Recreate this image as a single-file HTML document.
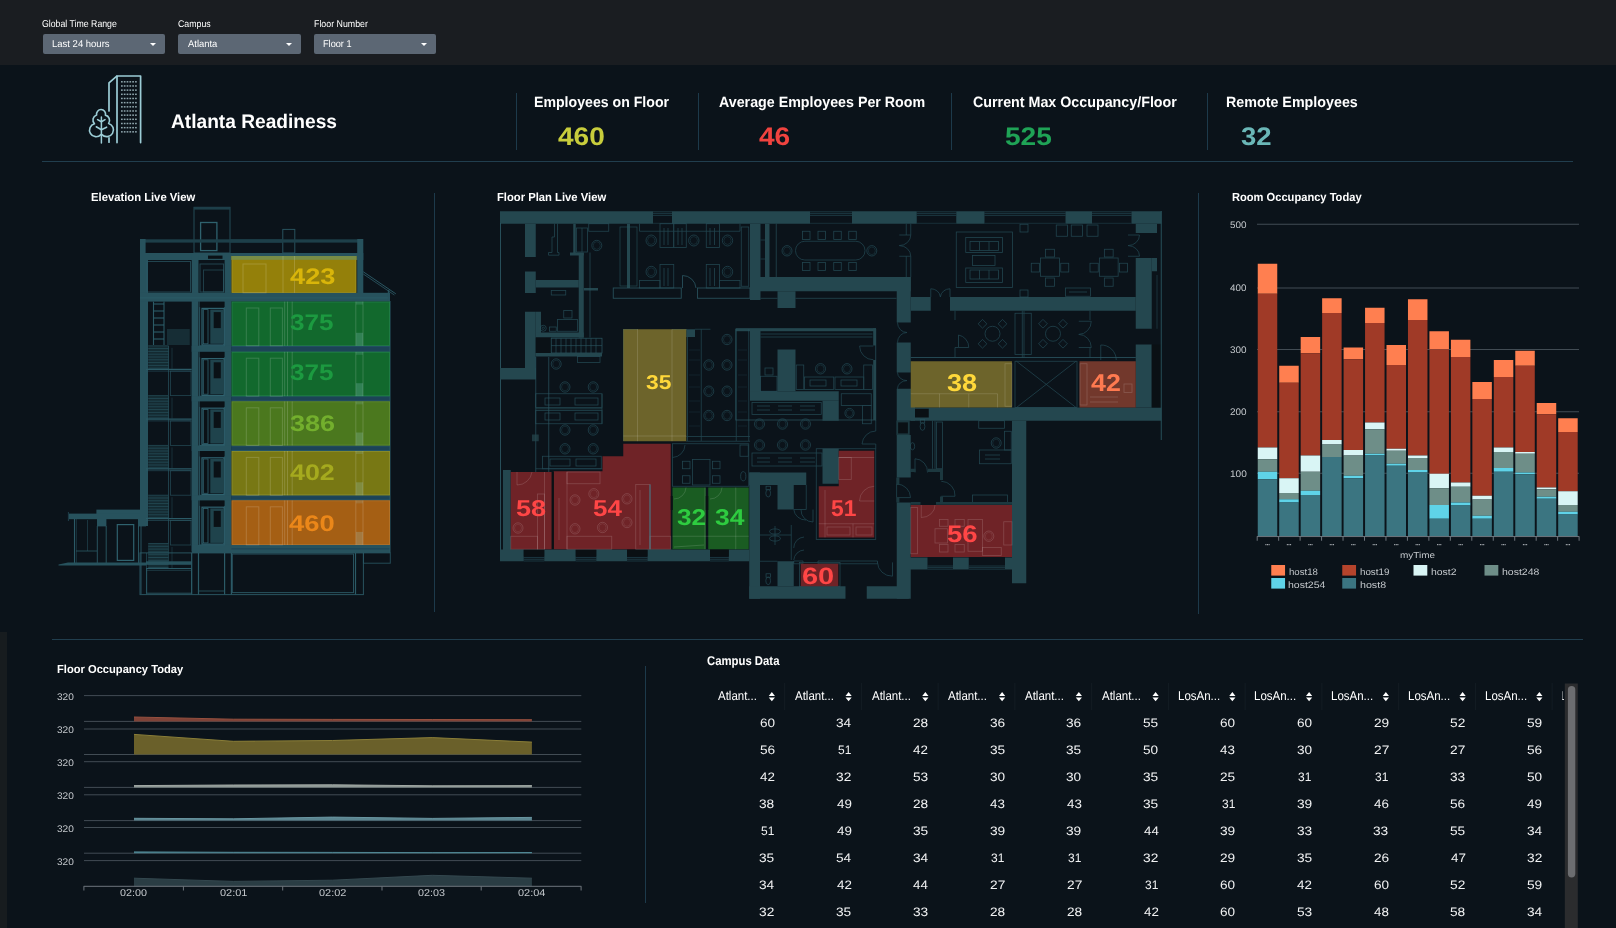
<!DOCTYPE html>
<html lang="en"><head><meta charset="utf-8"><title>Atlanta Readiness</title>
<style>
html,body{margin:0;padding:0;}
body{width:1616px;height:928px;overflow:hidden;background:#0b131a;font-family:"Liberation Sans",sans-serif;position:relative;}
#topbar{position:absolute;left:0;top:0;width:1616px;height:65px;background:#1a1d21;}
#leftstrip{position:absolute;left:0;top:632px;width:7px;height:296px;background:#171c1f;}
#gfx{position:absolute;left:0;top:0;}
#txt{position:absolute;left:0;top:0;width:1616px;height:928px;}
.t{text-rendering:geometricPrecision;position:absolute;white-space:nowrap;line-height:1;transform-origin:0 0;display:block;}
.dd{position:absolute;top:34.3px;height:20.2px;width:122.4px;background:#5c6774;border-radius:2px;}
.dd:after{content:"";position:absolute;right:9px;top:8.5px;border-left:3.3px solid transparent;border-right:3.3px solid transparent;border-top:3.8px solid #fff;}
.hl{position:absolute;height:1px;background:#213e4e;}
.vl{position:absolute;width:1px;background:#1d3a4b;}

</style></head>
<body>
<div id="topbar"></div>
<div id="leftstrip"></div>
<div class="dd" style="left:42.8px"></div>
<div class="dd" style="left:178.3px"></div>
<div class="dd" style="left:314.1px"></div>
<div class="hl" style="left:42px;top:161px;width:1531px"></div>
<div class="hl" style="left:52px;top:639px;width:1531px"></div>
<div class="vl" style="left:516px;top:93px;height:57px"></div>
<div class="vl" style="left:698px;top:93px;height:57px"></div>
<div class="vl" style="left:951px;top:93px;height:57px"></div>
<div class="vl" style="left:1207px;top:93px;height:57px"></div>
<div class="vl" style="left:434px;top:193px;height:419px"></div>
<div class="vl" style="left:1198px;top:193px;height:421px"></div>
<div class="vl" style="left:645px;top:666px;height:237px"></div>

<svg id="gfx" width="1616" height="928" viewBox="0 0 1616 928">
<g id="icon" fill="none" stroke="#9ccdd6" stroke-width="1.7" stroke-linecap="round" stroke-linejoin="round">
<path d="M117 142.6V76H140.6V142.6"/>
<path d="M116.8 76.2L109 82.8V111"/>
<path d="M109 137.8V142.2"/>
<path d="M96.6 114.9A4.5 4.5 0 1 1 105.4 115.1A5.4 5.4 0 0 1 108.6 123.4A6.75 6.75 0 1 1 101.9 134.6M100.9 134.6A6.55 6.55 0 1 1 94.5 123.8A5.4 5.4 0 0 1 96.6 114.9" stroke-width="1.6"/>
<path d="M101.4 117V143" stroke-width="1.5"/>
<path d="M97.6 119.6L101.4 121.8L105 119.6" stroke-width="1.6"/>
<path d="M96.3 126.8L101.4 129.8L106.6 127.2" stroke-width="1.6"/>
</g>
<g fill="#8fa6ad">
<rect x="121.00" y="81.05" width="1.7" height="1.5"/>
<rect x="121.00" y="85.22" width="1.7" height="1.5"/>
<rect x="121.00" y="89.39" width="1.7" height="1.5"/>
<rect x="121.00" y="93.56" width="1.7" height="1.5"/>
<rect x="121.00" y="97.73" width="1.7" height="1.5"/>
<rect x="121.00" y="101.90" width="1.7" height="1.5"/>
<rect x="121.00" y="106.07" width="1.7" height="1.5"/>
<rect x="121.00" y="110.24" width="1.7" height="1.5"/>
<rect x="121.00" y="114.41" width="1.7" height="1.5"/>
<rect x="121.00" y="118.58" width="1.7" height="1.5"/>
<rect x="121.00" y="122.75" width="1.7" height="1.5"/>
<rect x="121.00" y="126.92" width="1.7" height="1.5"/>
<rect x="121.00" y="131.09" width="1.7" height="1.5"/>
<rect x="123.81" y="81.05" width="1.7" height="1.5"/>
<rect x="123.81" y="85.22" width="1.7" height="1.5"/>
<rect x="123.81" y="89.39" width="1.7" height="1.5"/>
<rect x="123.81" y="93.56" width="1.7" height="1.5"/>
<rect x="123.81" y="97.73" width="1.7" height="1.5"/>
<rect x="123.81" y="101.90" width="1.7" height="1.5"/>
<rect x="123.81" y="106.07" width="1.7" height="1.5"/>
<rect x="123.81" y="110.24" width="1.7" height="1.5"/>
<rect x="123.81" y="114.41" width="1.7" height="1.5"/>
<rect x="123.81" y="118.58" width="1.7" height="1.5"/>
<rect x="123.81" y="122.75" width="1.7" height="1.5"/>
<rect x="123.81" y="126.92" width="1.7" height="1.5"/>
<rect x="123.81" y="131.09" width="1.7" height="1.5"/>
<rect x="126.62" y="81.05" width="1.7" height="1.5"/>
<rect x="126.62" y="85.22" width="1.7" height="1.5"/>
<rect x="126.62" y="89.39" width="1.7" height="1.5"/>
<rect x="126.62" y="93.56" width="1.7" height="1.5"/>
<rect x="126.62" y="97.73" width="1.7" height="1.5"/>
<rect x="126.62" y="101.90" width="1.7" height="1.5"/>
<rect x="126.62" y="106.07" width="1.7" height="1.5"/>
<rect x="126.62" y="110.24" width="1.7" height="1.5"/>
<rect x="126.62" y="114.41" width="1.7" height="1.5"/>
<rect x="126.62" y="118.58" width="1.7" height="1.5"/>
<rect x="126.62" y="122.75" width="1.7" height="1.5"/>
<rect x="126.62" y="126.92" width="1.7" height="1.5"/>
<rect x="126.62" y="131.09" width="1.7" height="1.5"/>
<rect x="129.43" y="81.05" width="1.7" height="1.5"/>
<rect x="129.43" y="85.22" width="1.7" height="1.5"/>
<rect x="129.43" y="89.39" width="1.7" height="1.5"/>
<rect x="129.43" y="93.56" width="1.7" height="1.5"/>
<rect x="129.43" y="97.73" width="1.7" height="1.5"/>
<rect x="129.43" y="101.90" width="1.7" height="1.5"/>
<rect x="129.43" y="106.07" width="1.7" height="1.5"/>
<rect x="129.43" y="110.24" width="1.7" height="1.5"/>
<rect x="129.43" y="114.41" width="1.7" height="1.5"/>
<rect x="129.43" y="118.58" width="1.7" height="1.5"/>
<rect x="129.43" y="122.75" width="1.7" height="1.5"/>
<rect x="129.43" y="126.92" width="1.7" height="1.5"/>
<rect x="129.43" y="131.09" width="1.7" height="1.5"/>
<rect x="132.24" y="81.05" width="1.7" height="1.5"/>
<rect x="132.24" y="85.22" width="1.7" height="1.5"/>
<rect x="132.24" y="89.39" width="1.7" height="1.5"/>
<rect x="132.24" y="93.56" width="1.7" height="1.5"/>
<rect x="132.24" y="97.73" width="1.7" height="1.5"/>
<rect x="132.24" y="101.90" width="1.7" height="1.5"/>
<rect x="132.24" y="106.07" width="1.7" height="1.5"/>
<rect x="132.24" y="110.24" width="1.7" height="1.5"/>
<rect x="132.24" y="114.41" width="1.7" height="1.5"/>
<rect x="132.24" y="118.58" width="1.7" height="1.5"/>
<rect x="132.24" y="122.75" width="1.7" height="1.5"/>
<rect x="132.24" y="126.92" width="1.7" height="1.5"/>
<rect x="132.24" y="131.09" width="1.7" height="1.5"/>
<rect x="135.05" y="81.05" width="1.7" height="1.5"/>
<rect x="135.05" y="85.22" width="1.7" height="1.5"/>
<rect x="135.05" y="89.39" width="1.7" height="1.5"/>
<rect x="135.05" y="93.56" width="1.7" height="1.5"/>
<rect x="135.05" y="97.73" width="1.7" height="1.5"/>
<rect x="135.05" y="101.90" width="1.7" height="1.5"/>
<rect x="135.05" y="106.07" width="1.7" height="1.5"/>
<rect x="135.05" y="110.24" width="1.7" height="1.5"/>
<rect x="135.05" y="114.41" width="1.7" height="1.5"/>
<rect x="135.05" y="118.58" width="1.7" height="1.5"/>
<rect x="135.05" y="122.75" width="1.7" height="1.5"/>
<rect x="135.05" y="126.92" width="1.7" height="1.5"/>
<rect x="135.05" y="131.09" width="1.7" height="1.5"/>
</g>
<g id="elev">
<rect x="194.00" y="207.30" width="36.00" height="45.70" fill="none" stroke="#2b5a66" stroke-width="1" opacity="0.8"/>
<rect x="194.00" y="207.30" width="36.00" height="2.30" fill="#1d3f49"/>
<rect x="200.60" y="222.50" width="16.30" height="28.10" fill="none" stroke="#2f626e" stroke-width="1.3"/>
<rect x="282.80" y="229.40" width="12.00" height="23.60" fill="none" stroke="#2b5a66" stroke-width="1" opacity="0.9"/>
<rect x="140.00" y="239.30" width="223.00" height="3.30" fill="#1d3f49"/>
<rect x="230.00" y="239.30" width="53.00" height="3.30" fill="#1d3f49"/>
<rect x="140.00" y="253.00" width="223.30" height="7.00" fill="#27525d"/>
<rect x="140.00" y="239.00" width="5.60" height="14.00" fill="#27525d"/>
<rect x="140.00" y="253.00" width="8.00" height="273.00" fill="#27525d"/>
<rect x="208.00" y="255.60" width="14.50" height="3.20" fill="#0a1116"/>
<rect x="357.20" y="239.00" width="6.10" height="62.00" fill="#27525d"/>
<rect x="191.70" y="256.00" width="6.80" height="295.00" fill="#27525d"/>
<rect x="224.60" y="256.00" width="6.80" height="295.00" fill="#27525d"/>
<rect x="140.00" y="292.80" width="250.00" height="8.80" fill="#27525d"/>
<path d="M140.00 297.90L390.00 297.90" stroke="#2f626e" stroke-width="0.7" fill="none" opacity="0.8"/>
<rect x="191.70" y="345.80" width="39.70" height="6.00" fill="#27525d"/>
<rect x="231.40" y="345.80" width="158.60" height="6.00" fill="#1c4356"/>
<path d="M231.40 346.20L390.00 346.20" stroke="#2f6a7a" stroke-width="0.7" fill="none" opacity="0.7"/>
<path d="M231.40 351.40L390.00 351.40" stroke="#2f6a7a" stroke-width="0.7" fill="none" opacity="0.7"/>
<rect x="191.70" y="396.20" width="39.70" height="5.20" fill="#27525d"/>
<rect x="231.40" y="396.20" width="158.60" height="5.20" fill="#1c4356"/>
<path d="M231.40 396.60L390.00 396.60" stroke="#2f6a7a" stroke-width="0.7" fill="none" opacity="0.7"/>
<path d="M231.40 401.00L390.00 401.00" stroke="#2f6a7a" stroke-width="0.7" fill="none" opacity="0.7"/>
<rect x="191.70" y="445.50" width="39.70" height="5.50" fill="#27525d"/>
<rect x="231.40" y="445.50" width="158.60" height="5.50" fill="#1c4356"/>
<path d="M231.40 445.90L390.00 445.90" stroke="#2f6a7a" stroke-width="0.7" fill="none" opacity="0.7"/>
<path d="M231.40 450.60L390.00 450.60" stroke="#2f6a7a" stroke-width="0.7" fill="none" opacity="0.7"/>
<rect x="191.70" y="495.30" width="39.70" height="5.10" fill="#27525d"/>
<rect x="231.40" y="495.30" width="158.60" height="5.10" fill="#1c4356"/>
<path d="M231.40 495.70L390.00 495.70" stroke="#2f6a7a" stroke-width="0.7" fill="none" opacity="0.7"/>
<path d="M231.40 500.00L390.00 500.00" stroke="#2f6a7a" stroke-width="0.7" fill="none" opacity="0.7"/>
<rect x="191.70" y="544.90" width="198.30" height="8.00" fill="#27525d"/>
<path d="M231.40 548.90L390.00 548.90" stroke="#1c4356" stroke-width="1.2" fill="none" opacity="0.9"/>
<path d="M390.00 301.00L390.00 552.90" stroke="#2b5a66" stroke-width="1" fill="none"/>
<path d="M363.30 271.80L395.80 293.80" stroke="#2f626e" stroke-width="0.9" fill="none" opacity="0.95"/>
<path d="M363.30 274.00L394.40 295.00" stroke="#2f626e" stroke-width="0.9" fill="none" opacity="0.8"/>
<path d="M388.60 290.00L388.60 301.00" stroke="#27525d" stroke-width="1.6" fill="none"/>
<rect x="147.00" y="261.50" width="43.50" height="30.50" fill="none" stroke="#2b5a66" stroke-width="1" opacity="0.7"/>
<rect x="200.00" y="264.00" width="23.50" height="28.00" fill="none" stroke="#2b5a66" stroke-width="1" opacity="0.7"/>
<rect x="203.50" y="270.00" width="20.00" height="22.00" fill="none" stroke="#2b5a66" stroke-width="1" opacity="0.6"/>
<path d="M153.50 301.60L153.50 345.00" stroke="#2b5a66" stroke-width="1.1" fill="none"/>
<path d="M164.00 301.60L164.00 345.00" stroke="#2b5a66" stroke-width="1.1" fill="none"/>
<path d="M153.50 304.00L164.00 304.00" stroke="#2f626e" stroke-width="1" fill="none"/>
<path d="M153.50 311.00L164.00 311.00" stroke="#2f626e" stroke-width="1" fill="none"/>
<path d="M153.50 318.00L164.00 318.00" stroke="#2f626e" stroke-width="1" fill="none"/>
<path d="M153.50 325.00L164.00 325.00" stroke="#2f626e" stroke-width="1" fill="none"/>
<path d="M153.50 332.00L164.00 332.00" stroke="#2f626e" stroke-width="1" fill="none"/>
<path d="M153.50 339.00L164.00 339.00" stroke="#2f626e" stroke-width="1" fill="none"/>
<rect x="167.00" y="329.00" width="23.00" height="16.00" fill="#13262d"/>
<path d="M168.00 329.00L168.00 345.00" stroke="#2b5a66" stroke-width="0.5" fill="none" opacity="0.6"/>
<path d="M170.00 329.00L170.00 345.00" stroke="#2b5a66" stroke-width="0.5" fill="none" opacity="0.6"/>
<path d="M172.00 329.00L172.00 345.00" stroke="#2b5a66" stroke-width="0.5" fill="none" opacity="0.6"/>
<path d="M174.00 329.00L174.00 345.00" stroke="#2b5a66" stroke-width="0.5" fill="none" opacity="0.6"/>
<path d="M176.00 329.00L176.00 345.00" stroke="#2b5a66" stroke-width="0.5" fill="none" opacity="0.6"/>
<path d="M178.00 329.00L178.00 345.00" stroke="#2b5a66" stroke-width="0.5" fill="none" opacity="0.6"/>
<path d="M180.00 329.00L180.00 345.00" stroke="#2b5a66" stroke-width="0.5" fill="none" opacity="0.6"/>
<path d="M182.00 329.00L182.00 345.00" stroke="#2b5a66" stroke-width="0.5" fill="none" opacity="0.6"/>
<path d="M184.00 329.00L184.00 345.00" stroke="#2b5a66" stroke-width="0.5" fill="none" opacity="0.6"/>
<path d="M186.00 329.00L186.00 345.00" stroke="#2b5a66" stroke-width="0.5" fill="none" opacity="0.6"/>
<path d="M188.00 329.00L188.00 345.00" stroke="#2b5a66" stroke-width="0.5" fill="none" opacity="0.6"/>
<rect x="148.20" y="345.80" width="20.30" height="23.50" fill="#142a31"/>
<path d="M148.20 345.80L168.50 345.80" stroke="#2b5a66" stroke-width="0.7" fill="none" opacity="0.85"/>
<path d="M148.20 348.60L168.50 348.60" stroke="#2b5a66" stroke-width="0.7" fill="none" opacity="0.85"/>
<path d="M148.20 351.40L168.50 351.40" stroke="#2b5a66" stroke-width="0.7" fill="none" opacity="0.85"/>
<path d="M148.20 354.20L168.50 354.20" stroke="#2b5a66" stroke-width="0.7" fill="none" opacity="0.85"/>
<path d="M148.20 357.00L168.50 357.00" stroke="#2b5a66" stroke-width="0.7" fill="none" opacity="0.85"/>
<path d="M148.20 359.80L168.50 359.80" stroke="#2b5a66" stroke-width="0.7" fill="none" opacity="0.85"/>
<path d="M148.20 362.60L168.50 362.60" stroke="#2b5a66" stroke-width="0.7" fill="none" opacity="0.85"/>
<path d="M148.20 365.40L168.50 365.40" stroke="#2b5a66" stroke-width="0.7" fill="none" opacity="0.85"/>
<path d="M148.20 368.20L168.50 368.20" stroke="#2b5a66" stroke-width="0.7" fill="none" opacity="0.85"/>
<path d="M146.00 369.30L191.70 369.30" stroke="#2b5a66" stroke-width="1.2" fill="none"/>
<path d="M146.00 371.10L191.70 371.10" stroke="#2b5a66" stroke-width="0.8" fill="none" opacity="0.7"/>
<rect x="170.50" y="371.10" width="20.50" height="24.50" fill="none" stroke="#2b5a66" stroke-width="0.8" opacity="0.7"/>
<path d="M168.50 345.80L168.50 395.60" stroke="#2b5a66" stroke-width="0.8" fill="none" opacity="0.8"/>
<path d="M172.00 347.80L172.00 368.80" stroke="#2b5a66" stroke-width="0.7" fill="none" opacity="0.6"/>
<rect x="148.20" y="395.60" width="20.30" height="23.50" fill="#142a31"/>
<path d="M148.20 395.60L168.50 395.60" stroke="#2b5a66" stroke-width="0.7" fill="none" opacity="0.85"/>
<path d="M148.20 398.40L168.50 398.40" stroke="#2b5a66" stroke-width="0.7" fill="none" opacity="0.85"/>
<path d="M148.20 401.20L168.50 401.20" stroke="#2b5a66" stroke-width="0.7" fill="none" opacity="0.85"/>
<path d="M148.20 404.00L168.50 404.00" stroke="#2b5a66" stroke-width="0.7" fill="none" opacity="0.85"/>
<path d="M148.20 406.80L168.50 406.80" stroke="#2b5a66" stroke-width="0.7" fill="none" opacity="0.85"/>
<path d="M148.20 409.60L168.50 409.60" stroke="#2b5a66" stroke-width="0.7" fill="none" opacity="0.85"/>
<path d="M148.20 412.40L168.50 412.40" stroke="#2b5a66" stroke-width="0.7" fill="none" opacity="0.85"/>
<path d="M148.20 415.20L168.50 415.20" stroke="#2b5a66" stroke-width="0.7" fill="none" opacity="0.85"/>
<path d="M148.20 418.00L168.50 418.00" stroke="#2b5a66" stroke-width="0.7" fill="none" opacity="0.85"/>
<path d="M146.00 419.10L191.70 419.10" stroke="#2b5a66" stroke-width="1.2" fill="none"/>
<path d="M146.00 420.90L191.70 420.90" stroke="#2b5a66" stroke-width="0.8" fill="none" opacity="0.7"/>
<rect x="170.50" y="420.90" width="20.50" height="24.50" fill="none" stroke="#2b5a66" stroke-width="0.8" opacity="0.7"/>
<path d="M168.50 395.60L168.50 445.40" stroke="#2b5a66" stroke-width="0.8" fill="none" opacity="0.8"/>
<path d="M172.00 397.60L172.00 418.60" stroke="#2b5a66" stroke-width="0.7" fill="none" opacity="0.6"/>
<rect x="148.20" y="445.40" width="20.30" height="23.50" fill="#142a31"/>
<path d="M148.20 445.40L168.50 445.40" stroke="#2b5a66" stroke-width="0.7" fill="none" opacity="0.85"/>
<path d="M148.20 448.20L168.50 448.20" stroke="#2b5a66" stroke-width="0.7" fill="none" opacity="0.85"/>
<path d="M148.20 451.00L168.50 451.00" stroke="#2b5a66" stroke-width="0.7" fill="none" opacity="0.85"/>
<path d="M148.20 453.80L168.50 453.80" stroke="#2b5a66" stroke-width="0.7" fill="none" opacity="0.85"/>
<path d="M148.20 456.60L168.50 456.60" stroke="#2b5a66" stroke-width="0.7" fill="none" opacity="0.85"/>
<path d="M148.20 459.40L168.50 459.40" stroke="#2b5a66" stroke-width="0.7" fill="none" opacity="0.85"/>
<path d="M148.20 462.20L168.50 462.20" stroke="#2b5a66" stroke-width="0.7" fill="none" opacity="0.85"/>
<path d="M148.20 465.00L168.50 465.00" stroke="#2b5a66" stroke-width="0.7" fill="none" opacity="0.85"/>
<path d="M148.20 467.80L168.50 467.80" stroke="#2b5a66" stroke-width="0.7" fill="none" opacity="0.85"/>
<path d="M146.00 468.90L191.70 468.90" stroke="#2b5a66" stroke-width="1.2" fill="none"/>
<path d="M146.00 470.70L191.70 470.70" stroke="#2b5a66" stroke-width="0.8" fill="none" opacity="0.7"/>
<rect x="170.50" y="470.70" width="20.50" height="24.50" fill="none" stroke="#2b5a66" stroke-width="0.8" opacity="0.7"/>
<path d="M168.50 445.40L168.50 495.20" stroke="#2b5a66" stroke-width="0.8" fill="none" opacity="0.8"/>
<path d="M172.00 447.40L172.00 468.40" stroke="#2b5a66" stroke-width="0.7" fill="none" opacity="0.6"/>
<rect x="148.20" y="495.20" width="20.30" height="23.50" fill="#142a31"/>
<path d="M148.20 495.20L168.50 495.20" stroke="#2b5a66" stroke-width="0.7" fill="none" opacity="0.85"/>
<path d="M148.20 498.00L168.50 498.00" stroke="#2b5a66" stroke-width="0.7" fill="none" opacity="0.85"/>
<path d="M148.20 500.80L168.50 500.80" stroke="#2b5a66" stroke-width="0.7" fill="none" opacity="0.85"/>
<path d="M148.20 503.60L168.50 503.60" stroke="#2b5a66" stroke-width="0.7" fill="none" opacity="0.85"/>
<path d="M148.20 506.40L168.50 506.40" stroke="#2b5a66" stroke-width="0.7" fill="none" opacity="0.85"/>
<path d="M148.20 509.20L168.50 509.20" stroke="#2b5a66" stroke-width="0.7" fill="none" opacity="0.85"/>
<path d="M148.20 512.00L168.50 512.00" stroke="#2b5a66" stroke-width="0.7" fill="none" opacity="0.85"/>
<path d="M148.20 514.80L168.50 514.80" stroke="#2b5a66" stroke-width="0.7" fill="none" opacity="0.85"/>
<path d="M148.20 517.60L168.50 517.60" stroke="#2b5a66" stroke-width="0.7" fill="none" opacity="0.85"/>
<path d="M146.00 518.70L191.70 518.70" stroke="#2b5a66" stroke-width="1.2" fill="none"/>
<path d="M146.00 520.50L191.70 520.50" stroke="#2b5a66" stroke-width="0.8" fill="none" opacity="0.7"/>
<rect x="170.50" y="520.50" width="20.50" height="24.50" fill="none" stroke="#2b5a66" stroke-width="0.8" opacity="0.7"/>
<path d="M168.50 495.20L168.50 545.00" stroke="#2b5a66" stroke-width="0.8" fill="none" opacity="0.8"/>
<path d="M172.00 497.20L172.00 518.20" stroke="#2b5a66" stroke-width="0.7" fill="none" opacity="0.6"/>
<rect x="148.20" y="545.00" width="20.30" height="23.50" fill="#142a31"/>
<path d="M148.20 545.00L168.50 545.00" stroke="#2b5a66" stroke-width="0.7" fill="none" opacity="0.85"/>
<path d="M148.20 547.80L168.50 547.80" stroke="#2b5a66" stroke-width="0.7" fill="none" opacity="0.85"/>
<path d="M148.20 550.60L168.50 550.60" stroke="#2b5a66" stroke-width="0.7" fill="none" opacity="0.85"/>
<path d="M148.20 553.40L168.50 553.40" stroke="#2b5a66" stroke-width="0.7" fill="none" opacity="0.85"/>
<path d="M148.20 556.20L168.50 556.20" stroke="#2b5a66" stroke-width="0.7" fill="none" opacity="0.85"/>
<path d="M148.20 559.00L168.50 559.00" stroke="#2b5a66" stroke-width="0.7" fill="none" opacity="0.85"/>
<path d="M148.20 561.80L168.50 561.80" stroke="#2b5a66" stroke-width="0.7" fill="none" opacity="0.85"/>
<path d="M148.20 564.60L168.50 564.60" stroke="#2b5a66" stroke-width="0.7" fill="none" opacity="0.85"/>
<path d="M148.20 567.40L168.50 567.40" stroke="#2b5a66" stroke-width="0.7" fill="none" opacity="0.85"/>
<path d="M146.00 568.50L191.70 568.50" stroke="#2b5a66" stroke-width="1.2" fill="none"/>
<path d="M146.00 570.30L191.70 570.30" stroke="#2b5a66" stroke-width="0.8" fill="none" opacity="0.7"/>
<rect x="170.50" y="570.30" width="20.50" height="-9.30" fill="none" stroke="#2b5a66" stroke-width="0.8" opacity="0.7"/>
<path d="M168.50 545.00L168.50 561.30" stroke="#2b5a66" stroke-width="0.8" fill="none" opacity="0.8"/>
<path d="M172.00 547.00L172.00 568.00" stroke="#2b5a66" stroke-width="0.7" fill="none" opacity="0.6"/>
<rect x="148.20" y="543.50" width="20.30" height="17.80" fill="#142a31"/>
<path d="M148.20 543.50L168.50 543.50" stroke="#2b5a66" stroke-width="0.7" fill="none" opacity="0.85"/>
<path d="M148.20 546.30L168.50 546.30" stroke="#2b5a66" stroke-width="0.7" fill="none" opacity="0.85"/>
<path d="M148.20 549.10L168.50 549.10" stroke="#2b5a66" stroke-width="0.7" fill="none" opacity="0.85"/>
<path d="M148.20 551.90L168.50 551.90" stroke="#2b5a66" stroke-width="0.7" fill="none" opacity="0.85"/>
<path d="M148.20 554.70L168.50 554.70" stroke="#2b5a66" stroke-width="0.7" fill="none" opacity="0.85"/>
<path d="M148.20 557.50L168.50 557.50" stroke="#2b5a66" stroke-width="0.7" fill="none" opacity="0.85"/>
<path d="M148.20 560.30L168.50 560.30" stroke="#2b5a66" stroke-width="0.7" fill="none" opacity="0.85"/>
<rect x="146.00" y="561.30" width="45.70" height="3.50" fill="#27525d"/>
<rect x="199.60" y="301.60" width="25.00" height="44.20" fill="none" stroke="#2b5a66" stroke-width="1" opacity="0.9"/>
<rect x="199.60" y="301.60" width="25.00" height="5.50" fill="#0a1116"/>
<rect x="202.00" y="308.40" width="22.00" height="36.60" fill="none" stroke="#2f626e" stroke-width="1.2"/>
<rect x="203.30" y="309.60" width="4.70" height="34.20" fill="#0a1116" stroke="#2f626e" stroke-width="0.8"/>
<rect x="210.30" y="309.60" width="13.70" height="34.20" fill="#1f434c"/>
<rect x="213.70" y="312.10" width="7.10" height="16.00" fill="#0a1116"/>
<rect x="199.60" y="351.80" width="25.00" height="44.40" fill="none" stroke="#2b5a66" stroke-width="1" opacity="0.9"/>
<rect x="199.60" y="351.80" width="25.00" height="5.50" fill="#0a1116"/>
<rect x="202.00" y="358.60" width="22.00" height="36.80" fill="none" stroke="#2f626e" stroke-width="1.2"/>
<rect x="203.30" y="359.80" width="4.70" height="34.40" fill="#0a1116" stroke="#2f626e" stroke-width="0.8"/>
<rect x="210.30" y="359.80" width="13.70" height="34.40" fill="#1f434c"/>
<rect x="213.70" y="362.30" width="7.10" height="16.00" fill="#0a1116"/>
<rect x="199.60" y="401.40" width="25.00" height="44.10" fill="none" stroke="#2b5a66" stroke-width="1" opacity="0.9"/>
<rect x="199.60" y="401.40" width="25.00" height="5.50" fill="#0a1116"/>
<rect x="202.00" y="408.20" width="22.00" height="36.50" fill="none" stroke="#2f626e" stroke-width="1.2"/>
<rect x="203.30" y="409.40" width="4.70" height="34.10" fill="#0a1116" stroke="#2f626e" stroke-width="0.8"/>
<rect x="210.30" y="409.40" width="13.70" height="34.10" fill="#1f434c"/>
<rect x="213.70" y="411.90" width="7.10" height="16.00" fill="#0a1116"/>
<rect x="199.60" y="451.00" width="25.00" height="44.30" fill="none" stroke="#2b5a66" stroke-width="1" opacity="0.9"/>
<rect x="199.60" y="451.00" width="25.00" height="5.50" fill="#0a1116"/>
<rect x="202.00" y="457.80" width="22.00" height="36.70" fill="none" stroke="#2f626e" stroke-width="1.2"/>
<rect x="203.30" y="459.00" width="4.70" height="34.30" fill="#0a1116" stroke="#2f626e" stroke-width="0.8"/>
<rect x="210.30" y="459.00" width="13.70" height="34.30" fill="#1f434c"/>
<rect x="213.70" y="461.50" width="7.10" height="16.00" fill="#0a1116"/>
<rect x="199.60" y="500.40" width="25.00" height="44.50" fill="none" stroke="#2b5a66" stroke-width="1" opacity="0.9"/>
<rect x="199.60" y="500.40" width="25.00" height="5.50" fill="#0a1116"/>
<rect x="202.00" y="507.20" width="22.00" height="36.90" fill="none" stroke="#2f626e" stroke-width="1.2"/>
<rect x="203.30" y="508.40" width="4.70" height="34.50" fill="#0a1116" stroke="#2f626e" stroke-width="0.8"/>
<rect x="210.30" y="508.40" width="13.70" height="34.50" fill="#1f434c"/>
<rect x="213.70" y="510.90" width="7.10" height="16.00" fill="#0a1116"/>
<rect x="140.00" y="552.90" width="223.40" height="41.70" fill="none" stroke="#2b5a66" stroke-width="1" opacity="0.9"/>
<rect x="146.60" y="568.50" width="44.90" height="24.70" fill="none" stroke="#2b5a66" stroke-width="1" opacity="0.9"/>
<path d="M146.60 552.90L146.60 594.60" stroke="#2b5a66" stroke-width="0.8" fill="none" opacity="0.8"/>
<path d="M191.70 552.90L191.70 594.60" stroke="#2b5a66" stroke-width="1.2" fill="none"/>
<path d="M198.50 552.90L198.50 594.60" stroke="#2b5a66" stroke-width="1.2" fill="none"/>
<path d="M224.60 552.90L224.60 594.60" stroke="#2b5a66" stroke-width="1.2" fill="none"/>
<path d="M231.40 552.90L231.40 594.60" stroke="#2b5a66" stroke-width="1.2" fill="none"/>
<path d="M198.50 591.00L224.60 591.00" stroke="#2b5a66" stroke-width="0.8" fill="none"/>
<rect x="232.30" y="554.00" width="121.20" height="38.60" fill="none" stroke="#2b5a66" stroke-width="1" opacity="0.9"/>
<path d="M355.50 552.90L355.50 594.60" stroke="#2b5a66" stroke-width="1.2" fill="none"/>
<rect x="363.40" y="552.90" width="26.90" height="10.30" fill="none" stroke="#2b5a66" stroke-width="1" opacity="0.8"/>
<rect x="96.40" y="509.60" width="43.60" height="4.60" fill="#27525d"/>
<rect x="69.00" y="513.60" width="71.00" height="5.60" fill="#27525d"/>
<rect x="97.00" y="519.00" width="9.40" height="7.40" fill="#27525d"/>
<rect x="138.00" y="519.00" width="8.00" height="7.40" fill="#27525d"/>
<path d="M74.50 519.00L74.50 563.00" stroke="#2b5a66" stroke-width="1.1" fill="none"/>
<path d="M76.30 519.00L76.30 563.00" stroke="#2b5a66" stroke-width="0.7" fill="none" opacity="0.7"/>
<path d="M68.40 512.00L68.40 521.00" stroke="#2b5a66" stroke-width="0.8" fill="none" opacity="0.8"/>
<path d="M87.50 520.00L87.50 551.00" stroke="#2b5a66" stroke-width="0.7" fill="none" opacity="0.7"/>
<path d="M97.30 526.00L97.30 564.00" stroke="#2b5a66" stroke-width="0.9" fill="none"/>
<path d="M106.20 526.00L106.20 564.00" stroke="#2b5a66" stroke-width="0.9" fill="none"/>
<path d="M76.00 551.00L97.00 551.00" stroke="#2b5a66" stroke-width="0.8" fill="none"/>
<path d="M138.50 526.00L138.50 564.00" stroke="#2b5a66" stroke-width="0.9" fill="none"/>
<path d="M141.00 526.00L141.00 594.00" stroke="#2b5a66" stroke-width="0.9" fill="none"/>
<rect x="117.30" y="524.60" width="16.40" height="35.80" fill="none" stroke="#2f626e" stroke-width="1.2"/>
<path d="M58.5 564.6L68 562.6H146V565.4H58.5Z" fill="#27525d"/>
</g>
<g id="elevrooms">
<rect x="231.60" y="256.00" width="124.70" height="36.80" fill="#94800a"/>
<rect x="232.00" y="256.40" width="123.90" height="36.00" fill="none" stroke="#a89a2e" stroke-width="0.8" opacity="0.7"/>
<rect x="231.60" y="301.60" width="158.40" height="44.20" fill="#12692d"/>
<rect x="232.00" y="302.00" width="157.60" height="43.40" fill="none" stroke="#2a8a55" stroke-width="0.8" opacity="0.7"/>
<rect x="231.60" y="351.80" width="158.40" height="44.40" fill="#12692d"/>
<rect x="232.00" y="352.20" width="157.60" height="43.60" fill="none" stroke="#2a8a55" stroke-width="0.8" opacity="0.7"/>
<rect x="231.60" y="401.40" width="158.40" height="44.10" fill="#4b781e"/>
<rect x="232.00" y="401.80" width="157.60" height="43.30" fill="none" stroke="#6c9a3c" stroke-width="0.8" opacity="0.7"/>
<rect x="231.60" y="451.00" width="158.40" height="44.30" fill="#787814"/>
<rect x="232.00" y="451.40" width="157.60" height="43.50" fill="none" stroke="#94983a" stroke-width="0.8" opacity="0.7"/>
<rect x="231.60" y="500.40" width="158.40" height="44.50" fill="#a55f14"/>
<rect x="232.00" y="500.80" width="157.60" height="43.70" fill="none" stroke="#bd8038" stroke-width="0.8" opacity="0.7"/>
<rect x="231.60" y="256.00" width="124.70" height="3.80" fill="#788c46"/>
</g>
<g id="elevdet" fill="none" stroke="#ffffff" stroke-opacity="0.16" stroke-width="1">
<rect x="243" y="264.0" width="23" height="28.8"/>
<path d="M283 256.0V292.8M294.5 256.0V292.8"/>
<rect x="246.3" y="308.0" width="12.5" height="37.8"/>
<rect x="270.3" y="308.0" width="12.1" height="37.8"/>
<path d="M284.7 301.6V345.8M287.5 301.6V345.8M292.2 301.6V345.8"/>
<path d="M355.8 301.6V345.8M363 301.6V345.8"/>
<rect x="356" y="332.8" width="7" height="13.0" fill="#9fd8e0" fill-opacity="0.22" stroke="none"/>
<rect x="356" y="301.6" width="7" height="3" fill="#9fd8e0" fill-opacity="0.15" stroke="none"/>
<rect x="246.3" y="358.2" width="12.5" height="38.0"/>
<rect x="270.3" y="358.2" width="12.1" height="38.0"/>
<path d="M284.7 351.8V396.2M287.5 351.8V396.2M292.2 351.8V396.2"/>
<path d="M355.8 351.8V396.2M363 351.8V396.2"/>
<rect x="356" y="383.2" width="7" height="13.0" fill="#9fd8e0" fill-opacity="0.22" stroke="none"/>
<rect x="356" y="351.8" width="7" height="3" fill="#9fd8e0" fill-opacity="0.15" stroke="none"/>
<rect x="246.3" y="407.8" width="12.5" height="37.7"/>
<rect x="270.3" y="407.8" width="12.1" height="37.7"/>
<path d="M284.7 401.4V445.5M287.5 401.4V445.5M292.2 401.4V445.5"/>
<path d="M355.8 401.4V445.5M363 401.4V445.5"/>
<rect x="356" y="432.5" width="7" height="13.0" fill="#9fd8e0" fill-opacity="0.22" stroke="none"/>
<rect x="356" y="401.4" width="7" height="3" fill="#9fd8e0" fill-opacity="0.15" stroke="none"/>
<rect x="246.3" y="457.4" width="12.5" height="37.9"/>
<rect x="270.3" y="457.4" width="12.1" height="37.9"/>
<path d="M284.7 451.0V495.3M287.5 451.0V495.3M292.2 451.0V495.3"/>
<path d="M355.8 451.0V495.3M363 451.0V495.3"/>
<rect x="356" y="482.3" width="7" height="13.0" fill="#9fd8e0" fill-opacity="0.22" stroke="none"/>
<rect x="356" y="451.0" width="7" height="3" fill="#9fd8e0" fill-opacity="0.15" stroke="none"/>
<rect x="246.3" y="506.8" width="12.5" height="38.1"/>
<rect x="270.3" y="506.8" width="12.1" height="38.1"/>
<path d="M284.7 500.4V544.9M287.5 500.4V544.9M292.2 500.4V544.9"/>
<path d="M355.8 500.4V544.9M363 500.4V544.9"/>
<rect x="356" y="531.9" width="7" height="13.0" fill="#9fd8e0" fill-opacity="0.22" stroke="none"/>
<rect x="356" y="500.4" width="7" height="3" fill="#9fd8e0" fill-opacity="0.15" stroke="none"/>
</g>
<g id="plan">
<rect x="500.00" y="211.25" width="153.00" height="12.50" fill="#24474f"/>
<rect x="672.00" y="211.25" width="138.00" height="12.50" fill="#24474f"/>
<rect x="852.00" y="211.25" width="64.75" height="12.50" fill="#24474f"/>
<rect x="956.25" y="211.25" width="28.25" height="12.50" fill="#24474f"/>
<rect x="1065.50" y="211.25" width="26.50" height="12.50" fill="#24474f"/>
<rect x="1131.50" y="211.25" width="29.75" height="12.50" fill="#24474f"/>
<rect x="1135.75" y="223.75" width="21.25" height="9.25" fill="#24474f"/>
<path d="M653.0 211.8H672.0M653.0 213.6H672.0M653.0 215.4H672.0" fill="none" stroke="#2a5560" stroke-width="0.7" opacity="0.8"/>
<path d="M653.0 223.3H672.0" fill="none" stroke="#2a5560" stroke-width="0.7" opacity="0.6"/>
<path d="M810.0 211.8H852.0M810.0 213.6H852.0M810.0 215.4H852.0" fill="none" stroke="#2a5560" stroke-width="0.7" opacity="0.8"/>
<path d="M810.0 223.3H852.0" fill="none" stroke="#2a5560" stroke-width="0.7" opacity="0.6"/>
<path d="M916.8 211.8H956.2M916.8 213.6H956.2M916.8 215.4H956.2" fill="none" stroke="#2a5560" stroke-width="0.7" opacity="0.8"/>
<path d="M916.8 223.3H956.2" fill="none" stroke="#2a5560" stroke-width="0.7" opacity="0.6"/>
<path d="M984.5 211.8H1065.5M984.5 213.6H1065.5M984.5 215.4H1065.5" fill="none" stroke="#2a5560" stroke-width="0.7" opacity="0.8"/>
<path d="M984.5 223.3H1065.5" fill="none" stroke="#2a5560" stroke-width="0.7" opacity="0.6"/>
<path d="M1092.0 211.8H1131.5M1092.0 213.6H1131.5M1092.0 215.4H1131.5" fill="none" stroke="#2a5560" stroke-width="0.7" opacity="0.8"/>
<path d="M1092.0 223.3H1131.5" fill="none" stroke="#2a5560" stroke-width="0.7" opacity="0.6"/>
<path d="M500.5 223V561" fill="none" stroke="#2a5560" stroke-width="1" opacity="0.9"/>
<rect x="525.00" y="223.75" width="10.75" height="33.25" fill="#24474f"/>
<rect x="525.00" y="271.50" width="10.75" height="21.50" fill="#24474f"/>
<rect x="535.75" y="280.00" width="43.00" height="7.50" fill="#24474f"/>
<rect x="525.00" y="311.75" width="10.75" height="67.00" fill="#24474f"/>
<rect x="535.75" y="311.75" width="5.25" height="21.25" fill="#24474f"/>
<rect x="500.00" y="368.00" width="35.75" height="11.50" fill="#24474f"/>
<rect x="535.75" y="332.50" width="48.00" height="5.00" fill="#24474f"/>
<rect x="578.75" y="253.00" width="5.00" height="84.50" fill="#24474f"/>
<rect x="570.00" y="252.50" width="13.75" height="3.00" fill="#24474f"/>
<rect x="573.25" y="223.75" width="2.50" height="29.25" fill="#24474f"/>
<rect x="583.75" y="288.00" width="14.25" height="2.50" fill="#24474f"/>
<path d="M590 252.5V337.5" fill="none" stroke="#2a5560" stroke-width="0.8" opacity="0.8"/>
<rect x="535.75" y="337.50" width="15.25" height="15.50" fill="#0a1116"/>
<rect x="551.25" y="338.25" width="50.75" height="14.75" fill="none" stroke="#2a5560" stroke-width="0.8" opacity="0.9"/>
<path d="M551.25 345.6H602" fill="none" stroke="#2a5560" stroke-width="0.8" opacity="0.8"/>
<path d="M556.0 338.3V353M561.0 338.3V353M566.0 338.3V353M571.0 338.3V353M576.0 338.3V353M581.0 338.3V353M586.0 338.3V353M591.0 338.3V353M596.0 338.3V353" fill="none" stroke="#2a5560" stroke-width="0.8" opacity="0.8"/>
<rect x="535.75" y="353.00" width="66.25" height="3.50" fill="#24474f"/>
<path d="M535.75 357V472M548.75 357V472" fill="none" stroke="#2a5560" stroke-width="0.9" opacity="0.8"/>
<rect x="503.00" y="470.00" width="7.75" height="80.00" fill="#24474f"/>
<rect x="500.00" y="549.50" width="23.75" height="11.75" fill="#24474f"/>
<rect x="544.25" y="549.50" width="31.50" height="11.75" fill="#24474f"/>
<rect x="596.25" y="549.50" width="30.75" height="11.75" fill="#24474f"/>
<rect x="647.50" y="549.50" width="62.50" height="11.75" fill="#24474f"/>
<rect x="728.75" y="549.50" width="20.50" height="11.75" fill="#24474f"/>
<rect x="523.75" y="549.50" width="20.50" height="7.00" fill="#0a1014"/>
<path d="M523.8 557.6H544.2M523.8 559.3H544.2M523.8 561H544.2" fill="none" stroke="#2a5560" stroke-width="0.7" opacity="0.8"/>
<rect x="575.75" y="549.50" width="20.50" height="7.00" fill="#0a1014"/>
<path d="M575.8 557.6H596.2M575.8 559.3H596.2M575.8 561H596.2" fill="none" stroke="#2a5560" stroke-width="0.7" opacity="0.8"/>
<rect x="627.00" y="549.50" width="20.50" height="7.00" fill="#0a1014"/>
<path d="M627.0 557.6H647.5M627.0 559.3H647.5M627.0 561H647.5" fill="none" stroke="#2a5560" stroke-width="0.7" opacity="0.8"/>
<rect x="710.00" y="549.50" width="18.75" height="7.00" fill="#0a1014"/>
<path d="M710.0 557.6H728.8M710.0 559.3H728.8M710.0 561H728.8" fill="none" stroke="#2a5560" stroke-width="0.7" opacity="0.8"/>
<rect x="627.00" y="223.75" width="3.00" height="64.25" fill="#24474f"/>
<rect x="620.00" y="227.00" width="17.00" height="59.00" fill="none" stroke="#2a5560" stroke-width="0.8" opacity="0.7"/>
<rect x="613.25" y="288.00" width="68.00" height="10.25" fill="none" stroke="#2a5560" stroke-width="0.9" opacity="0.9"/>
<rect x="697.50" y="288.00" width="52.50" height="10.25" fill="none" stroke="#2a5560" stroke-width="0.9" opacity="0.9"/>
<path d="M682.5 288V275.5A13.5 13.5 0 0 1 696 288" fill="none" stroke="#2a5560" stroke-width="0.9" opacity="0.9"/>
<rect x="750.00" y="223.75" width="10.50" height="76.25" fill="#24474f"/>
<rect x="765.00" y="223.75" width="4.50" height="53.25" fill="#24474f"/>
<path d="M776.25 223.75V277" fill="none" stroke="#2a5560" stroke-width="0.8" opacity="0.8"/>
<path d="M760.5 240H765M760.5 259H765" fill="none" stroke="#2a5560" stroke-width="0.8" opacity="0.7"/>
<rect x="750.00" y="277.00" width="160.75" height="14.25" fill="#24474f"/>
<rect x="777.50" y="291.25" width="18.00" height="16.75" fill="#24474f"/>
<path d="M760.5 298.3H777.5M795.5 298.3H896.5" fill="none" stroke="#2a5560" stroke-width="0.8" opacity="0.8"/>
<rect x="896.75" y="277.00" width="14.00" height="45.50" fill="#24474f"/>
<rect x="896.75" y="342.50" width="14.00" height="30.00" fill="#24474f"/>
<rect x="896.75" y="388.75" width="18.25" height="32.00" fill="#24474f"/>
<rect x="686.25" y="329.25" width="8.75" height="7.75" fill="#24474f"/>
<path d="M623.6 441V329.6H638M672 329.6H686.5" fill="none" stroke="#2f626e" stroke-width="1.2" opacity="0.9"/>
<rect x="735.75" y="329.25" width="140.00" height="90.75" fill="none" stroke="#2a5560" stroke-width="0.9" opacity="0.8"/>
<rect x="735.75" y="328.20" width="140.25" height="3.00" fill="#24474f"/>
<rect x="873.20" y="328.20" width="2.80" height="17.30" fill="#24474f"/>
<rect x="873.20" y="360.00" width="2.80" height="60.00" fill="#24474f"/>
<rect x="750.00" y="329.25" width="10.50" height="70.75" fill="#24474f"/>
<rect x="750.00" y="391.25" width="88.75" height="9.50" fill="#24474f"/>
<rect x="777.50" y="349.50" width="18.00" height="41.75" fill="#24474f"/>
<rect x="822.50" y="400.75" width="16.25" height="20.00" fill="#24474f"/>
<rect x="822.50" y="448.75" width="16.25" height="35.00" fill="#24474f"/>
<rect x="749.25" y="472.50" width="10.75" height="126.25" fill="#24474f"/>
<rect x="749.25" y="472.50" width="57.00" height="12.50" fill="#24474f"/>
<rect x="777.50" y="485.00" width="16.25" height="24.50" fill="#24474f"/>
<rect x="806.25" y="485.00" width="16.25" height="-12.50" fill="#0a1014"/>
<rect x="749.25" y="586.25" width="96.25" height="12.50" fill="#24474f"/>
<rect x="866.75" y="586.25" width="42.00" height="12.50" fill="#24474f"/>
<rect x="777.50" y="561.25" width="16.25" height="25.00" fill="#24474f"/>
<rect x="896.75" y="435.00" width="14.00" height="42.50" fill="#24474f"/>
<rect x="896.75" y="502.50" width="14.00" height="96.25" fill="#24474f"/>
<rect x="908.75" y="557.50" width="18.75" height="12.00" fill="#24474f"/>
<rect x="953.00" y="557.50" width="15.75" height="12.00" fill="#24474f"/>
<rect x="1005.00" y="557.50" width="7.00" height="12.00" fill="#24474f"/>
<path d="M927.5 566H953.0M927.5 567.6H953.0M927.5 569.2H953.0" fill="none" stroke="#2a5560" stroke-width="0.7" opacity="0.8"/>
<path d="M968.8 566H1005.0M968.8 567.6H1005.0M968.8 569.2H1005.0" fill="none" stroke="#2a5560" stroke-width="0.7" opacity="0.8"/>
<rect x="1012.00" y="420.75" width="14.25" height="162.50" fill="#24474f"/>
<rect x="910.75" y="407.50" width="250.50" height="13.25" fill="#24474f"/>
<rect x="915.00" y="408.75" width="13.75" height="8.75" fill="#0a1014"/>
<rect x="1135.75" y="258.00" width="16.00" height="70.75" fill="#24474f"/>
<rect x="1151.75" y="258.00" width="5.25" height="13.25" fill="#24474f"/>
<rect x="1135.75" y="344.50" width="16.00" height="63.00" fill="#24474f"/>
<rect x="1151.75" y="344.50" width="9.50" height="63.00" fill="#0a1014"/>
<rect x="910.75" y="297.00" width="20.00" height="13.75" fill="#24474f"/>
<rect x="950.00" y="297.00" width="185.75" height="13.75" fill="#24474f"/>
<path d="M910.75 357.5H1135.75" fill="none" stroke="#2a5560" stroke-width="0.9" opacity="0.9"/>
<path d="M1161.25 211V440" fill="none" stroke="#2a5560" stroke-width="1" opacity="0.9"/>
<path d="M1157 275V328.75" fill="none" stroke="#2a5560" stroke-width="0.8" opacity="0.6"/>
</g>
<g id="plandet" fill="none" stroke="#2b5863" stroke-width="0.8" opacity="0.72">
<path d="M554.5 223.75V237H552V252.5H548.5V255.2H559V252.5H557.5V223.75"/>
<rect x="576.50" y="228.00" width="11.00" height="24.00" rx="0"/>
<path d="M582 228V252"/>
<ellipse cx="596.8" cy="245.5" rx="5.0" ry="5.2"/>
<ellipse cx="596.8" cy="245.5" rx="3.5" ry="3.8" opacity="0.6"/>
<rect x="588.75" y="223.75" width="20.00" height="7.50" rx="0"/>
<rect x="551.25" y="290.50" width="14.50" height="4.50" rx="0"/>
<rect x="557.50" y="319.50" width="20.00" height="11.75" rx="0"/>
<rect x="563.75" y="310.50" width="8.25" height="7.50" rx="0"/>
<rect x="549.50" y="327.00" width="6.75" height="4.25" rx="0"/>
<circle cx="543.25" cy="328.25" r="3"/><circle cx="543.25" cy="328.25" r="1.2"/>
<rect x="577.50" y="356.50" width="22.50" height="6.00" rx="0"/>
<ellipse cx="556.2" cy="364.0" rx="5.0" ry="5.2"/>
<ellipse cx="556.2" cy="364.0" rx="3.5" ry="3.8" opacity="0.6"/>
<ellipse cx="565.0" cy="387.0" rx="5.0" ry="5.2"/>
<ellipse cx="565.0" cy="387.0" rx="3.5" ry="3.8" opacity="0.6"/>
<ellipse cx="593.2" cy="387.0" rx="5.0" ry="5.2"/>
<ellipse cx="593.2" cy="387.0" rx="3.5" ry="3.8" opacity="0.6"/>
<rect x="535.75" y="393.75" width="66.25" height="13.75" rx="0"/>
<rect x="535.75" y="410.50" width="66.25" height="13.25" rx="0"/>
<path d="M535.75 408.8H602"/>
<path d="M602 393.75V423.75"/>
<rect x="545.00" y="398.00" width="15.00" height="7.00" rx="0"/>
<rect x="575.00" y="398.00" width="23.00" height="7.00" rx="0"/>
<rect x="545.00" y="413.00" width="15.00" height="7.00" rx="0"/>
<rect x="575.00" y="413.00" width="23.00" height="7.00" rx="0"/>
<ellipse cx="565.0" cy="430.0" rx="5.0" ry="5.2"/>
<ellipse cx="565.0" cy="430.0" rx="3.5" ry="3.8" opacity="0.6"/>
<ellipse cx="593.2" cy="430.0" rx="5.0" ry="5.2"/>
<ellipse cx="593.2" cy="430.0" rx="3.5" ry="3.8" opacity="0.6"/>
<ellipse cx="565.0" cy="448.8" rx="5.0" ry="5.2"/>
<ellipse cx="565.0" cy="448.8" rx="3.5" ry="3.8" opacity="0.6"/>
<ellipse cx="593.2" cy="448.8" rx="5.0" ry="5.2"/>
<ellipse cx="593.2" cy="448.8" rx="3.5" ry="3.8" opacity="0.6"/>
<rect x="542.50" y="456.25" width="58.75" height="12.50" rx="0"/>
<rect x="550.00" y="459.00" width="20.00" height="7.00" rx="0"/>
<rect x="576.00" y="459.00" width="20.00" height="7.00" rx="0"/>
<rect x="532" y="434.5" width="6.75" height="6.75" fill="#26484f" stroke="none" opacity="1"/>
<path d="M535.75 468.75H602.5"/>
<path d="M639.5 231.25H740M639.5 223.75V231.25M740 223.75V231.25"/>
<rect x="660.00" y="223.75" width="13.75" height="23.75" rx="0"/>
<rect x="673.75" y="223.75" width="12.50" height="23.75" rx="0"/>
<rect x="706.25" y="223.75" width="13.25" height="23.75" rx="0"/>
<path d="M664 228V245M668 228V245M678 228V245M682 228V245M710 228V245M714.5 228V245"/>
<ellipse cx="651.2" cy="240.5" rx="5.2" ry="5.5"/>
<ellipse cx="651.2" cy="240.5" rx="3.6" ry="3.9" opacity="0.6"/>
<ellipse cx="693.8" cy="240.5" rx="5.2" ry="5.5"/>
<ellipse cx="693.8" cy="240.5" rx="3.6" ry="3.9" opacity="0.6"/>
<ellipse cx="727.5" cy="240.5" rx="5.2" ry="5.5"/>
<ellipse cx="727.5" cy="240.5" rx="3.6" ry="3.9" opacity="0.6"/>
<ellipse cx="651.2" cy="271.8" rx="5.2" ry="5.5"/>
<ellipse cx="651.2" cy="271.8" rx="3.6" ry="3.9" opacity="0.6"/>
<ellipse cx="727.5" cy="271.8" rx="5.2" ry="5.5"/>
<ellipse cx="727.5" cy="271.8" rx="3.6" ry="3.9" opacity="0.6"/>
<rect x="660.00" y="264.50" width="13.75" height="23.50" rx="0"/>
<rect x="706.25" y="264.50" width="13.25" height="23.50" rx="0"/>
<path d="M664 268V286M668 268V286M710 268V286M714.5 268V286"/>
<rect x="639.50" y="280.50" width="20.50" height="7.50" rx="0"/>
<rect x="719.50" y="280.50" width="20.50" height="7.50" rx="0"/>
<rect x="741.25" y="227.00" width="7.50" height="59.25" rx="0"/>
<rect x="795.50" y="241.25" width="69.50" height="18.75" rx="9.3"/>
<rect x="802.50" y="231.25" width="7.50" height="8.25" rx="0"/>
<rect x="802.50" y="262.50" width="7.50" height="8.00" rx="0"/>
<rect x="818.00" y="231.25" width="7.50" height="8.25" rx="0"/>
<rect x="818.00" y="262.50" width="7.50" height="8.00" rx="0"/>
<rect x="833.75" y="231.25" width="7.50" height="8.25" rx="0"/>
<rect x="833.75" y="262.50" width="7.50" height="8.00" rx="0"/>
<rect x="848.75" y="231.25" width="7.50" height="8.25" rx="0"/>
<rect x="848.75" y="262.50" width="7.50" height="8.00" rx="0"/>
<ellipse cx="787.0" cy="250.8" rx="5.0" ry="5.2"/>
<ellipse cx="787.0" cy="250.8" rx="3.5" ry="3.8" opacity="0.6"/>
<ellipse cx="871.8" cy="250.8" rx="5.0" ry="5.2"/>
<ellipse cx="871.8" cy="250.8" rx="3.5" ry="3.8" opacity="0.6"/>
<path d="M687.5 337V441M701.25 329.25V441M695 329.25H710.5"/>
<path d="M736.25 329.25V441M748.75 329.25V441"/>
<ellipse cx="708.8" cy="365.0" rx="5.0" ry="5.2"/>
<ellipse cx="708.8" cy="365.0" rx="3.5" ry="3.8" opacity="0.6"/>
<ellipse cx="727.0" cy="365.0" rx="5.0" ry="5.2"/>
<ellipse cx="727.0" cy="365.0" rx="3.5" ry="3.8" opacity="0.6"/>
<ellipse cx="708.8" cy="391.2" rx="5.0" ry="5.2"/>
<ellipse cx="708.8" cy="391.2" rx="3.5" ry="3.8" opacity="0.6"/>
<ellipse cx="727.0" cy="391.2" rx="5.0" ry="5.2"/>
<ellipse cx="727.0" cy="391.2" rx="3.5" ry="3.8" opacity="0.6"/>
<ellipse cx="708.8" cy="415.5" rx="5.0" ry="5.2"/>
<ellipse cx="708.8" cy="415.5" rx="3.5" ry="3.8" opacity="0.6"/>
<ellipse cx="727.0" cy="415.5" rx="5.0" ry="5.2"/>
<ellipse cx="727.0" cy="415.5" rx="3.5" ry="3.8" opacity="0.6"/>
<ellipse cx="727.0" cy="339.5" rx="5.0" ry="5.2"/>
<ellipse cx="727.0" cy="339.5" rx="3.5" ry="3.8" opacity="0.6"/>
<path d="M689 350H700M738 350H747" opacity="0.45"/>
<path d="M689 360H700M738 360H747" opacity="0.45"/>
<path d="M689 375H700M738 375H747" opacity="0.45"/>
<path d="M689 387H700M738 387H747" opacity="0.45"/>
<path d="M689 401H700M738 401H747" opacity="0.45"/>
<path d="M689 412H700M738 412H747" opacity="0.45"/>
<path d="M689 426H700M738 426H747" opacity="0.45"/>
<path d="M686.25 441.25H750M686.25 436.5H750"/>
<path d="M760.5 337H872.5M760.5 334H872.5"/>
<ellipse cx="820.5" cy="368.8" rx="5.0" ry="5.2"/>
<ellipse cx="820.5" cy="368.8" rx="3.5" ry="3.8" opacity="0.6"/>
<ellipse cx="847.0" cy="368.8" rx="5.0" ry="5.2"/>
<ellipse cx="847.0" cy="368.8" rx="3.5" ry="3.8" opacity="0.6"/>
<rect x="804.50" y="377.00" width="29.25" height="12.50" rx="0"/>
<rect x="835.00" y="377.00" width="28.75" height="12.50" rx="0"/>
<rect x="796.25" y="365.00" width="7.50" height="24.50" rx="0"/>
<rect x="765.00" y="368.00" width="8.00" height="7.00" rx="0"/>
<rect x="760.50" y="376.25" width="16.50" height="15.00" rx="0"/>
<rect x="863.75" y="365.00" width="8.75" height="24.50" rx="0"/>
<rect x="810.00" y="380.00" width="16.00" height="6.00" rx="0"/>
<rect x="841.00" y="380.00" width="16.00" height="6.00" rx="0"/>
<path d="M859.6 346H873.4M859.6 346A13.75 13.75 0 0 0 873.4 359.75"/>
<rect x="752.00" y="402.50" width="69.25" height="12.00" rx="0"/>
<path d="M757 406H770M778 406H792M800 406H815M757 410H770M778 410H792M800 410H815"/>
<ellipse cx="759.5" cy="424.0" rx="5.0" ry="5.2"/>
<ellipse cx="759.5" cy="424.0" rx="3.5" ry="3.8" opacity="0.6"/>
<ellipse cx="782.5" cy="424.0" rx="5.0" ry="5.2"/>
<ellipse cx="782.5" cy="424.0" rx="3.5" ry="3.8" opacity="0.6"/>
<ellipse cx="805.5" cy="424.0" rx="5.0" ry="5.2"/>
<ellipse cx="805.5" cy="424.0" rx="3.5" ry="3.8" opacity="0.6"/>
<ellipse cx="759.5" cy="445.0" rx="5.0" ry="5.2"/>
<ellipse cx="759.5" cy="445.0" rx="3.5" ry="3.8" opacity="0.6"/>
<ellipse cx="782.5" cy="445.0" rx="5.0" ry="5.2"/>
<ellipse cx="782.5" cy="445.0" rx="3.5" ry="3.8" opacity="0.6"/>
<ellipse cx="805.5" cy="445.0" rx="5.0" ry="5.2"/>
<ellipse cx="805.5" cy="445.0" rx="3.5" ry="3.8" opacity="0.6"/>
<rect x="752.00" y="453.00" width="70.00" height="13.00" rx="0"/>
<path d="M757 458H770M778 458H792M800 458H815M757 462H770M778 462H792M800 462H815"/>
<rect x="841.25" y="393.75" width="30.00" height="11.75" rx="0"/>
<ellipse cx="849.5" cy="413.2" rx="4.6" ry="4.8"/>
<ellipse cx="849.5" cy="413.2" rx="3.2" ry="3.4" opacity="0.6"/>
<rect x="862.50" y="405.50" width="8.75" height="18.25" rx="0"/>
<path d="M875.75 420V431M875.75 431A14 14 0 0 0 862 444H875.75V448.75"/>
<rect x="956.25" y="232.00" width="56.25" height="55.50" rx="0"/>
<rect x="965.75" y="237.50" width="36.75" height="15.00" rx="0"/>
<rect x="970.00" y="241.50" width="28.50" height="9.00" rx="0"/>
<path d="M979.5 241.5V250.5M989 241.5V250.5"/>
<rect x="972.50" y="255.50" width="22.50" height="10.00" rx="0"/>
<rect x="965.75" y="268.00" width="36.75" height="14.50" rx="0"/>
<rect x="970.00" y="270.00" width="28.50" height="9.00" rx="0"/>
<path d="M979.5 270V279M989 270V279"/>
<rect x="1020.00" y="224.25" width="8.00" height="7.75" rx="0"/>
<rect x="1020.00" y="290.00" width="8.00" height="7.00" rx="0"/>
<rect x="1056.25" y="225.00" width="11.25" height="11.25" rx="0"/>
<rect x="1071.25" y="225.00" width="11.25" height="11.25" rx="0"/>
<rect x="1087.00" y="225.00" width="11.00" height="11.25" rx="0"/>
<rect x="1040.60" y="258.00" width="18.80" height="18.25" rx="0"/>
<rect x="1045.60" y="249.25" width="8.80" height="7.75" rx="0"/>
<rect x="1045.60" y="278.00" width="8.80" height="8.25" rx="0"/>
<rect x="1031.25" y="263.25" width="8.25" height="8.75" rx="0"/>
<rect x="1060.75" y="263.25" width="8.00" height="8.75" rx="0"/>
<rect x="1099.35" y="258.00" width="18.80" height="18.25" rx="0"/>
<rect x="1104.35" y="249.25" width="8.80" height="7.75" rx="0"/>
<rect x="1104.35" y="278.00" width="8.80" height="8.25" rx="0"/>
<rect x="1090.00" y="263.25" width="8.25" height="8.75" rx="0"/>
<rect x="1119.50" y="263.25" width="8.00" height="8.75" rx="0"/>
<rect x="1065.50" y="288.00" width="25.00" height="8.25" rx="0"/>
<path d="M1069 292H1087"/>
<path d="M906.25 223.75V235M910.75 223.75V235M906.25 256.25V277M910.75 256.25V277"/>
<path d="M899.25 235H910.75A11.5 10.6 0 0 1 899.25 245.6M899.25 256.25H910.75A11.5 10.6 0 0 0 899.25 245.6"/>
<path d="M1128 235H1139.5A11.5 10.6 0 0 1 1128 245.6M1128 256.25H1139.5A11.5 10.6 0 0 0 1128 245.6"/>
<path d="M930.75 297V288.75A9.6 9 0 0 1 940.4 297M950 297V288.75A9.6 9 0 0 0 940.4 297"/>
<path d="M897.5 322.5A9.5 10 0 0 0 907 332.5M897.5 342.5A9.5 10 0 0 1 907 332.5"/>
<path d="M897.5 372.5A9.5 8.1 0 0 0 907 380.6M897.5 388.75A9.5 8.1 0 0 1 907 380.6"/>
<path d="M955 310.75V320M955 347.5V357.5M955 347.5H958.5V335A12.5 12.5 0 0 1 968.75 347.5H958.5"/>
<path d="M1090 310.75V320M1090 347.5V357.5M1078.75 321.25H1091.25A12.5 13.1 0 0 1 1078.75 334.4M1078.75 347.5H1091.25A12.5 13.1 0 0 0 1078.75 334.4"/>
<circle cx="992.5" cy="333.75" r="7.5"/>
<path d="M982.5 319.4L986.9 323.8L982.5 328.1L978.1 323.8Z"/>
<path d="M1002.5 319.4L1006.9 323.8L1002.5 328.1L998.1 323.8Z"/>
<path d="M982.5 339.4L986.9 343.8L982.5 348.1L978.1 343.8Z"/>
<path d="M1002.5 339.4L1006.9 343.8L1002.5 348.1L998.1 343.8Z"/>
<circle cx="1053.0" cy="333.75" r="7.5"/>
<path d="M1043.0 319.4L1047.4 323.8L1043.0 328.1L1038.6 323.8Z"/>
<path d="M1063.0 319.4L1067.4 323.8L1063.0 328.1L1058.6 323.8Z"/>
<path d="M1043.0 339.4L1047.4 343.8L1043.0 348.1L1038.6 343.8Z"/>
<path d="M1063.0 339.4L1067.4 343.8L1063.0 348.1L1058.6 343.8Z"/>
<rect x="1015.00" y="313.25" width="16.25" height="41.25" rx="0"/>
<path d="M1022.3 310.75V357.5M1024 310.75V357.5"/>
<path d="M1100.75 360V345A15 15 0 0 1 1116.25 360"/>
<rect x="1015.00" y="361.25" width="62.00" height="46.25" rx="0"/>
<path d="M1016.5 361.25L1076 407.5M1076 361.25L1016.5 407.5"/>
<ellipse cx="768.2" cy="493.2" rx="2.4" ry="3.8"/>
<rect x="766.05" y="486.25" width="4.40" height="3.50" rx="0"/>
<ellipse cx="768.2" cy="580.8" rx="2.4" ry="3.8"/>
<rect x="766.05" y="573.75" width="4.40" height="3.50" rx="0"/>
<ellipse cx="775.0" cy="531.5" rx="5.5" ry="2.6"/>
<ellipse cx="775.0" cy="538.5" rx="5.5" ry="2.6"/>
<path d="M775 526V545"/>
<path d="M760 535H791.25M791.25 525V560M760 561.25H777.5"/>
<path d="M793.75 509.5A12 12 0 0 0 806 520M813 509.5V522A12 12 0 0 1 801 509.5"/>
<path d="M793.75 548A11 11 0 0 1 804 537M793.75 560A11 11 0 0 1 804 550"/>
<path d="M818 561H877.5V563.75H818ZM793.75 561H803V563.75H793.75Z"/>
<path d="M806.25 485V509.5M793.75 509.5H806.25"/>
<path d="M877.5 562.4A15 14 0 0 0 892.5 576.2V562.4"/>
<rect x="672.50" y="443.75" width="76.25" height="42.50" rx="0"/>
<path d="M672.5 457.5A13 13 0 0 0 685 445"/>
<rect x="682.50" y="461.25" width="7.50" height="7.50" rx="0"/>
<rect x="712.50" y="461.25" width="7.50" height="7.50" rx="0"/>
<rect x="682.50" y="475.75" width="7.50" height="7.50" rx="0"/>
<rect x="712.50" y="475.75" width="7.50" height="7.50" rx="0"/>
<rect x="692.50" y="459.50" width="17.50" height="25.50" rx="0"/>
<rect x="740.00" y="445.00" width="8.25" height="11.25" rx="0"/>
<ellipse cx="743.25" cy="476.25" rx="2.6" ry="4.6"/>
<ellipse cx="922.5" cy="426.5" rx="2.4" ry="3.8"/>
<rect x="920.30" y="419.50" width="4.40" height="3.50" rx="0"/>
<ellipse cx="912.5" cy="446.25" rx="2.2" ry="3.6"/>
<path d="M932.5 420.75V468.75M935 420.75V468.75"/>
<rect x="936.50" y="422.00" width="6.00" height="46.75" rx="0"/>
<rect x="978.75" y="420.75" width="25.75" height="7.50" rx="0"/>
<rect x="1004.50" y="431.25" width="6.75" height="18.75" rx="0"/>
<ellipse cx="996.2" cy="443.0" rx="5.0" ry="5.2"/>
<ellipse cx="996.2" cy="443.0" rx="3.5" ry="3.8" opacity="0.6"/>
<rect x="979.50" y="450.00" width="31.75" height="13.75" rx="0"/>
<path d="M985 455H1000M985 459H1000"/>
<rect x="972.50" y="495.00" width="35.00" height="7.50" rx="0"/>
<path d="M915 472.5V458.75A13 13 0 0 1 927.5 472.5"/>
<path d="M896.6 484V497.6H910.5M896.6 484A14 13.6 0 0 1 910.5 497.6"/>
<path d="M941.25 481.25A14 14 0 0 1 955 496.25H941.25"/>
<path d="M910.6 468.75H915.6V472H910.6ZM928 468.75H943V472H928ZM940 472H943V480H940ZM940 496.5H943V502H940ZM896.25 477.5H899.4V485H896.25ZM896.25 497.5H899.4V502.5H896.25ZM910.75 502H920.5V504.8H910.75ZM936 502H1012V504.8H936Z" fill="#24474f" stroke="none" opacity="1"/>
<rect x="897.2" y="421.5" width="11.6" height="12.8" fill="#0a1014" stroke="#24474f" stroke-width="1.8" opacity="1"/>
<rect x="816.25" y="448.75" width="59.50" height="90.75" rx="0"/>
<rect x="799.50" y="562.50" width="40.50" height="23.75" rx="0"/>
</g>
<g id="rooms">
<rect x="623.25" y="329.25" width="63.00" height="112.00" fill="#6d642b" opacity="1"/>
<rect x="910.75" y="361.25" width="101.25" height="46.25" fill="#6d642b" opacity="1"/>
<rect x="1079.50" y="361.25" width="56.25" height="46.25" fill="#72382c" opacity="1"/>
<rect x="510.75" y="472.00" width="41.00" height="77.25" fill="#6f2327" opacity="1"/>
<path d="M553.75 471.25H602.5V456.25H623.25V443.75H670.75V549.25H553.75Z" fill="#6f2327"/>
<rect x="672.50" y="487.50" width="33.25" height="61.75" fill="#1a5c22" opacity="1"/>
<rect x="708.25" y="487.50" width="40.50" height="61.75" fill="#1a5c22" opacity="1"/>
<path d="M838.75 450.75H874.25V537.5H818.75V486.25H838.75Z" fill="#6f2327"/>
<rect x="800.75" y="563.75" width="37.50" height="22.50" fill="#6f2327" opacity="1"/>
<rect x="910.75" y="505.00" width="101.25" height="52.00" fill="#6f2327" opacity="1"/>
</g>
<g id="roomdet" fill="none" stroke="#ffffff" stroke-opacity="0.17" stroke-width="0.8">
<path d="M637.5 329.25V441.25M672 329.25V441.25M623.25 436H686.25"/>
<path d="M910.75 393.75H997.5M939.5 393.75V407.5M968.75 393.75V407.5M997.5 393.75V407.5"/>
<rect x="1005.00" y="363.75" width="7.00" height="42.50" rx="0"/>
<rect x="1080.00" y="363.75" width="7.00" height="41.25" rx="0"/>
<rect x="1124.00" y="384.00" width="8.00" height="8.50" rx="0"/>
<path d="M1090 397H1118M1090 402H1118"/>
<path d="M517 472V485A15 15 0 0 0 532 472M544.5 472V549.25"/>
<ellipse cx="518.0" cy="528.0" rx="5.0" ry="5.2"/>
<ellipse cx="518.0" cy="528.0" rx="3.5" ry="3.8" opacity="0.6"/>
<rect x="510.75" y="536.25" width="26.75" height="13.00" rx="0"/>
<rect x="537.50" y="494.00" width="7.00" height="55.25" rx="0"/>
<path d="M567 472V549.25"/>
<rect x="567.00" y="472.00" width="33.00" height="11.75" rx="0"/>
<ellipse cx="575.0" cy="500.0" rx="5.0" ry="5.2"/>
<ellipse cx="575.0" cy="500.0" rx="3.5" ry="3.8" opacity="0.6"/>
<ellipse cx="593.8" cy="493.8" rx="5.0" ry="5.2"/>
<ellipse cx="593.8" cy="493.8" rx="3.5" ry="3.8" opacity="0.6"/>
<ellipse cx="627.0" cy="498.8" rx="5.0" ry="5.2"/>
<ellipse cx="627.0" cy="498.8" rx="3.5" ry="3.8" opacity="0.6"/>
<ellipse cx="627.0" cy="522.5" rx="5.0" ry="5.2"/>
<ellipse cx="627.0" cy="522.5" rx="3.5" ry="3.8" opacity="0.6"/>
<ellipse cx="575.0" cy="528.8" rx="5.0" ry="5.2"/>
<ellipse cx="575.0" cy="528.8" rx="3.5" ry="3.8" opacity="0.6"/>
<ellipse cx="602.5" cy="527.5" rx="5.0" ry="5.2"/>
<ellipse cx="602.5" cy="527.5" rx="3.5" ry="3.8" opacity="0.6"/>
<rect x="635.75" y="484.50" width="14.25" height="64.75" rx="0"/>
<rect x="567.00" y="536.25" width="44.75" height="13.00" rx="0"/>
<rect x="650.00" y="536.25" width="20.75" height="13.00" rx="0"/>
<path d="M640 490V545M559 498V540"/>
<path d="M672.5 536.25H748.75M735.75 487.5V549.25M705 487.5V549.25"/>
<path d="M674 499A12 12 0 0 0 686 487.5M710 499A12 12 0 0 0 722 487.5"/>
<path d="M674 547L704 545"/>
<rect x="838.75" y="457.50" width="12.50" height="22.00" rx="0"/>
<path d="M818.75 523.75H874.25M825 490V537.5M838.75 457.5H874.25M853 523.75V537.5"/>
<path d="M874.25 486.25A15 15 0 0 0 859.5 501H874.25"/>
<rect x="827.00" y="527.00" width="23.00" height="8.00" rx="0"/>
<rect x="856.00" y="527.00" width="16.00" height="8.00" rx="0"/>
<path d="M921.25 505V517.5A13.5 12.5 0 0 0 935 505"/>
<rect x="910.75" y="507.50" width="6.75" height="46.25" rx="0"/>
<rect x="968.00" y="519.50" width="14.50" height="31.75" rx="0"/>
<rect x="982.50" y="547.50" width="18.75" height="8.00" rx="0"/>
<ellipse cx="988.8" cy="536.2" rx="5.0" ry="5.2"/>
<ellipse cx="988.8" cy="536.2" rx="3.5" ry="3.8" opacity="0.6"/>
<rect x="1003.75" y="521.75" width="8.25" height="23.25" rx="0"/>
<rect x="935.00" y="528.75" width="12.50" height="14.25" rx="0"/>
<rect x="939.50" y="519.50" width="8.50" height="6.75" rx="0"/>
<rect x="955.00" y="519.50" width="9.25" height="6.75" rx="0"/>
<rect x="939.50" y="544.50" width="8.50" height="7.50" rx="0"/>
<rect x="955.00" y="544.50" width="9.25" height="7.50" rx="0"/>
</g>
<rect x="670.75" y="496" width="2" height="14" fill="#0a1014"/><rect x="705.75" y="496" width="2.5" height="14" fill="#0a1014"/><rect x="551.75" y="472" width="2" height="77" fill="#0a1014"/>
<path d="M650 484.5V549" stroke="#3d7683" stroke-width="1.3" fill="none" opacity="0.8"/>
<g id="barchart">
<path d="M1257 224.25H1579" stroke="#424c54" stroke-width="1" fill="none"/>
<path d="M1257 288.00H1579" stroke="#424c54" stroke-width="1" fill="none"/>
<path d="M1257 349.50H1579" stroke="#424c54" stroke-width="1" fill="none"/>
<path d="M1257 411.75H1579" stroke="#424c54" stroke-width="1" fill="none"/>
<path d="M1257 473.25H1579" stroke="#424c54" stroke-width="1" fill="none"/>
<rect x="1257.75" y="263.75" width="19.5" height="30.00" fill="#ff7f50"/>
<rect x="1257.75" y="293.75" width="19.5" height="153.75" fill="#a03a27"/>
<rect x="1257.75" y="447.50" width="19.5" height="11.75" fill="#d9f5f5"/>
<rect x="1257.75" y="459.25" width="19.5" height="12.50" fill="#6e8e88"/>
<rect x="1257.75" y="471.75" width="19.5" height="7.50" fill="#5fd3e8"/>
<rect x="1257.75" y="479.25" width="19.5" height="57.00" fill="#3b7581"/>
<rect x="1279.21" y="365.75" width="19.5" height="17.00" fill="#ff7f50"/>
<rect x="1279.21" y="382.75" width="19.5" height="95.50" fill="#a03a27"/>
<rect x="1279.21" y="478.25" width="19.5" height="14.75" fill="#d9f5f5"/>
<rect x="1279.21" y="493.00" width="19.5" height="6.25" fill="#6e8e88"/>
<rect x="1279.21" y="499.25" width="19.5" height="3.25" fill="#5fd3e8"/>
<rect x="1279.21" y="502.50" width="19.5" height="33.75" fill="#3b7581"/>
<rect x="1300.67" y="337.00" width="19.5" height="16.25" fill="#ff7f50"/>
<rect x="1300.67" y="353.25" width="19.5" height="102.25" fill="#a03a27"/>
<rect x="1300.67" y="455.50" width="19.5" height="16.25" fill="#d9f5f5"/>
<rect x="1300.67" y="471.75" width="19.5" height="19.00" fill="#6e8e88"/>
<rect x="1300.67" y="490.75" width="19.5" height="4.25" fill="#5fd3e8"/>
<rect x="1300.67" y="495.00" width="19.5" height="41.25" fill="#3b7581"/>
<rect x="1322.13" y="298.25" width="19.5" height="14.75" fill="#ff7f50"/>
<rect x="1322.13" y="313.00" width="19.5" height="127.00" fill="#a03a27"/>
<rect x="1322.13" y="440.00" width="19.5" height="4.50" fill="#d9f5f5"/>
<rect x="1322.13" y="444.50" width="19.5" height="12.50" fill="#6e8e88"/>
<rect x="1322.13" y="457.00" width="19.5" height="79.25" fill="#3b7581"/>
<rect x="1343.59" y="347.50" width="19.5" height="11.75" fill="#ff7f50"/>
<rect x="1343.59" y="359.25" width="19.5" height="90.75" fill="#a03a27"/>
<rect x="1343.59" y="450.00" width="19.5" height="5.50" fill="#d9f5f5"/>
<rect x="1343.59" y="455.50" width="19.5" height="20.25" fill="#6e8e88"/>
<rect x="1343.59" y="475.75" width="19.5" height="2.50" fill="#5fd3e8"/>
<rect x="1343.59" y="478.25" width="19.5" height="58.00" fill="#3b7581"/>
<rect x="1365.05" y="307.75" width="19.5" height="15.25" fill="#ff7f50"/>
<rect x="1365.05" y="323.00" width="19.5" height="99.50" fill="#a03a27"/>
<rect x="1365.05" y="422.50" width="19.5" height="6.75" fill="#d9f5f5"/>
<rect x="1365.05" y="429.25" width="19.5" height="24.50" fill="#6e8e88"/>
<rect x="1365.05" y="453.75" width="19.5" height="1.75" fill="#5fd3e8"/>
<rect x="1365.05" y="455.50" width="19.5" height="80.75" fill="#3b7581"/>
<rect x="1386.51" y="345.00" width="19.5" height="20.00" fill="#ff7f50"/>
<rect x="1386.51" y="365.00" width="19.5" height="83.75" fill="#a03a27"/>
<rect x="1386.51" y="448.75" width="19.5" height="2.00" fill="#d9f5f5"/>
<rect x="1386.51" y="450.75" width="19.5" height="13.00" fill="#6e8e88"/>
<rect x="1386.51" y="463.75" width="19.5" height="2.00" fill="#5fd3e8"/>
<rect x="1386.51" y="465.75" width="19.5" height="70.50" fill="#3b7581"/>
<rect x="1407.97" y="299.25" width="19.5" height="20.75" fill="#ff7f50"/>
<rect x="1407.97" y="320.00" width="19.5" height="135.50" fill="#a03a27"/>
<rect x="1407.97" y="455.50" width="19.5" height="2.50" fill="#d9f5f5"/>
<rect x="1407.97" y="458.00" width="19.5" height="12.00" fill="#6e8e88"/>
<rect x="1407.97" y="470.00" width="19.5" height="2.50" fill="#5fd3e8"/>
<rect x="1407.97" y="472.50" width="19.5" height="63.75" fill="#3b7581"/>
<rect x="1429.43" y="331.25" width="19.5" height="18.00" fill="#ff7f50"/>
<rect x="1429.43" y="349.25" width="19.5" height="124.50" fill="#a03a27"/>
<rect x="1429.43" y="473.75" width="19.5" height="14.50" fill="#d9f5f5"/>
<rect x="1429.43" y="488.25" width="19.5" height="16.75" fill="#6e8e88"/>
<rect x="1429.43" y="505.00" width="19.5" height="13.75" fill="#5fd3e8"/>
<rect x="1429.43" y="518.75" width="19.5" height="17.50" fill="#3b7581"/>
<rect x="1450.89" y="339.75" width="19.5" height="17.25" fill="#ff7f50"/>
<rect x="1450.89" y="357.00" width="19.5" height="125.50" fill="#a03a27"/>
<rect x="1450.89" y="482.50" width="19.5" height="4.25" fill="#d9f5f5"/>
<rect x="1450.89" y="486.75" width="19.5" height="15.75" fill="#6e8e88"/>
<rect x="1450.89" y="502.50" width="19.5" height="3.00" fill="#5fd3e8"/>
<rect x="1450.89" y="505.50" width="19.5" height="30.75" fill="#3b7581"/>
<rect x="1472.35" y="382.00" width="19.5" height="17.00" fill="#ff7f50"/>
<rect x="1472.35" y="399.00" width="19.5" height="96.75" fill="#a03a27"/>
<rect x="1472.35" y="495.75" width="19.5" height="3.75" fill="#d9f5f5"/>
<rect x="1472.35" y="499.50" width="19.5" height="16.25" fill="#6e8e88"/>
<rect x="1472.35" y="515.75" width="19.5" height="3.00" fill="#5fd3e8"/>
<rect x="1472.35" y="518.75" width="19.5" height="17.50" fill="#3b7581"/>
<rect x="1493.81" y="360.00" width="19.5" height="17.00" fill="#ff7f50"/>
<rect x="1493.81" y="377.00" width="19.5" height="70.50" fill="#a03a27"/>
<rect x="1493.81" y="447.50" width="19.5" height="4.50" fill="#d9f5f5"/>
<rect x="1493.81" y="452.00" width="19.5" height="16.00" fill="#6e8e88"/>
<rect x="1493.81" y="468.00" width="19.5" height="3.75" fill="#5fd3e8"/>
<rect x="1493.81" y="471.75" width="19.5" height="64.50" fill="#3b7581"/>
<rect x="1515.27" y="350.75" width="19.5" height="15.00" fill="#ff7f50"/>
<rect x="1515.27" y="365.75" width="19.5" height="86.25" fill="#a03a27"/>
<rect x="1515.27" y="452.00" width="19.5" height="1.75" fill="#d9f5f5"/>
<rect x="1515.27" y="453.75" width="19.5" height="18.75" fill="#6e8e88"/>
<rect x="1515.27" y="472.50" width="19.5" height="1.75" fill="#5fd3e8"/>
<rect x="1515.27" y="474.25" width="19.5" height="62.00" fill="#3b7581"/>
<rect x="1536.73" y="403.00" width="19.5" height="11.25" fill="#ff7f50"/>
<rect x="1536.73" y="414.25" width="19.5" height="73.25" fill="#a03a27"/>
<rect x="1536.73" y="487.50" width="19.5" height="1.75" fill="#d9f5f5"/>
<rect x="1536.73" y="489.25" width="19.5" height="7.50" fill="#6e8e88"/>
<rect x="1536.73" y="496.75" width="19.5" height="2.00" fill="#5fd3e8"/>
<rect x="1536.73" y="498.75" width="19.5" height="37.50" fill="#3b7581"/>
<rect x="1558.19" y="418.25" width="19.5" height="13.75" fill="#ff7f50"/>
<rect x="1558.19" y="432.00" width="19.5" height="59.25" fill="#a03a27"/>
<rect x="1558.19" y="491.25" width="19.5" height="13.75" fill="#d9f5f5"/>
<rect x="1558.19" y="505.00" width="19.5" height="6.75" fill="#6e8e88"/>
<rect x="1558.19" y="511.75" width="19.5" height="2.75" fill="#5fd3e8"/>
<rect x="1558.19" y="514.50" width="19.5" height="21.75" fill="#3b7581"/>
<path d="M1257 536.55H1579" stroke="#6f767d" stroke-width="1" fill="none"/>
<path d="M1257.20 536.25V540.75M1278.66 536.25V540.75M1300.12 536.25V540.75M1321.58 536.25V540.75M1343.04 536.25V540.75M1364.50 536.25V540.75M1385.96 536.25V540.75M1407.42 536.25V540.75M1428.88 536.25V540.75M1450.34 536.25V540.75M1471.80 536.25V540.75M1493.26 536.25V540.75M1514.72 536.25V540.75M1536.18 536.25V540.75M1557.64 536.25V540.75M1579.10 536.25V540.75" stroke="#6f767d" stroke-width="1" fill="none"/>
<rect x="1265.35" y="544.1" width="1.1" height="1.1" fill="#b3b8bd"/>
<rect x="1266.95" y="544.1" width="1.1" height="1.1" fill="#b3b8bd"/>
<rect x="1268.55" y="544.1" width="1.1" height="1.1" fill="#b3b8bd"/>
<rect x="1286.81" y="544.1" width="1.1" height="1.1" fill="#b3b8bd"/>
<rect x="1288.41" y="544.1" width="1.1" height="1.1" fill="#b3b8bd"/>
<rect x="1290.01" y="544.1" width="1.1" height="1.1" fill="#b3b8bd"/>
<rect x="1308.27" y="544.1" width="1.1" height="1.1" fill="#b3b8bd"/>
<rect x="1309.87" y="544.1" width="1.1" height="1.1" fill="#b3b8bd"/>
<rect x="1311.47" y="544.1" width="1.1" height="1.1" fill="#b3b8bd"/>
<rect x="1329.73" y="544.1" width="1.1" height="1.1" fill="#b3b8bd"/>
<rect x="1331.33" y="544.1" width="1.1" height="1.1" fill="#b3b8bd"/>
<rect x="1332.93" y="544.1" width="1.1" height="1.1" fill="#b3b8bd"/>
<rect x="1351.19" y="544.1" width="1.1" height="1.1" fill="#b3b8bd"/>
<rect x="1352.79" y="544.1" width="1.1" height="1.1" fill="#b3b8bd"/>
<rect x="1354.39" y="544.1" width="1.1" height="1.1" fill="#b3b8bd"/>
<rect x="1372.65" y="544.1" width="1.1" height="1.1" fill="#b3b8bd"/>
<rect x="1374.25" y="544.1" width="1.1" height="1.1" fill="#b3b8bd"/>
<rect x="1375.85" y="544.1" width="1.1" height="1.1" fill="#b3b8bd"/>
<rect x="1394.11" y="544.1" width="1.1" height="1.1" fill="#b3b8bd"/>
<rect x="1395.71" y="544.1" width="1.1" height="1.1" fill="#b3b8bd"/>
<rect x="1397.31" y="544.1" width="1.1" height="1.1" fill="#b3b8bd"/>
<rect x="1415.57" y="544.1" width="1.1" height="1.1" fill="#b3b8bd"/>
<rect x="1417.17" y="544.1" width="1.1" height="1.1" fill="#b3b8bd"/>
<rect x="1418.77" y="544.1" width="1.1" height="1.1" fill="#b3b8bd"/>
<rect x="1437.03" y="544.1" width="1.1" height="1.1" fill="#b3b8bd"/>
<rect x="1438.63" y="544.1" width="1.1" height="1.1" fill="#b3b8bd"/>
<rect x="1440.23" y="544.1" width="1.1" height="1.1" fill="#b3b8bd"/>
<rect x="1458.49" y="544.1" width="1.1" height="1.1" fill="#b3b8bd"/>
<rect x="1460.09" y="544.1" width="1.1" height="1.1" fill="#b3b8bd"/>
<rect x="1461.69" y="544.1" width="1.1" height="1.1" fill="#b3b8bd"/>
<rect x="1479.95" y="544.1" width="1.1" height="1.1" fill="#b3b8bd"/>
<rect x="1481.55" y="544.1" width="1.1" height="1.1" fill="#b3b8bd"/>
<rect x="1483.15" y="544.1" width="1.1" height="1.1" fill="#b3b8bd"/>
<rect x="1501.41" y="544.1" width="1.1" height="1.1" fill="#b3b8bd"/>
<rect x="1503.01" y="544.1" width="1.1" height="1.1" fill="#b3b8bd"/>
<rect x="1504.61" y="544.1" width="1.1" height="1.1" fill="#b3b8bd"/>
<rect x="1522.87" y="544.1" width="1.1" height="1.1" fill="#b3b8bd"/>
<rect x="1524.47" y="544.1" width="1.1" height="1.1" fill="#b3b8bd"/>
<rect x="1526.07" y="544.1" width="1.1" height="1.1" fill="#b3b8bd"/>
<rect x="1544.33" y="544.1" width="1.1" height="1.1" fill="#b3b8bd"/>
<rect x="1545.93" y="544.1" width="1.1" height="1.1" fill="#b3b8bd"/>
<rect x="1547.53" y="544.1" width="1.1" height="1.1" fill="#b3b8bd"/>
<rect x="1565.79" y="544.1" width="1.1" height="1.1" fill="#b3b8bd"/>
<rect x="1567.39" y="544.1" width="1.1" height="1.1" fill="#b3b8bd"/>
<rect x="1568.99" y="544.1" width="1.1" height="1.1" fill="#b3b8bd"/>
<rect x="1271.25" y="565.00" width="13.8" height="10.6" fill="#ff7f50"/>
<rect x="1342.25" y="565.00" width="13.8" height="10.6" fill="#b5442c"/>
<rect x="1413.50" y="565.00" width="13.8" height="10.6" fill="#d9f5f5"/>
<rect x="1484.50" y="565.00" width="13.8" height="10.6" fill="#6e8e88"/>
<rect x="1271.25" y="578.00" width="13.8" height="10.6" fill="#5fd3e8"/>
<rect x="1342.25" y="578.00" width="13.8" height="10.6" fill="#3b7581"/>
</g>
<g id="areachart">
<path d="M84 695.60H581.3" stroke="#424c54" stroke-width="1" fill="none"/>
<path d="M84 729.00H581.3" stroke="#424c54" stroke-width="1" fill="none"/>
<path d="M84 761.70H581.3" stroke="#424c54" stroke-width="1" fill="none"/>
<path d="M84 794.80H581.3" stroke="#424c54" stroke-width="1" fill="none"/>
<path d="M84 827.50H581.3" stroke="#424c54" stroke-width="1" fill="none"/>
<path d="M84 860.60H581.3" stroke="#424c54" stroke-width="1" fill="none"/>
<path d="M84 721.40H581.3" stroke="#424c54" stroke-width="1" fill="none"/>
<path d="M84 754.50H581.3" stroke="#424c54" stroke-width="1" fill="none"/>
<path d="M84 787.40H581.3" stroke="#424c54" stroke-width="1" fill="none"/>
<path d="M84 820.60H581.3" stroke="#424c54" stroke-width="1" fill="none"/>
<path d="M84 853.20H581.3" stroke="#424c54" stroke-width="1" fill="none"/>
<polygon points="134.0,717.00 233.3,719.20 332.5,719.40 432.2,719.50 531.9,719.70 531.9,721.40 134.0,721.40" fill="#7f4237" opacity="1"/>
<polyline points="134.0,717.00 233.3,719.20 332.5,719.40 432.2,719.50 531.9,719.70" fill="none" stroke="#96503f" stroke-width="1"/>
<polygon points="134.0,734.40 233.3,741.30 332.5,740.50 432.2,737.60 531.9,742.10 531.9,754.50 134.0,754.50" fill="#6a602a" opacity="1"/>
<polyline points="134.0,734.40 233.3,741.30 332.5,740.50 432.2,737.60 531.9,742.10" fill="none" stroke="#8a7e38" stroke-width="1"/>
<polygon points="134.0,785.60 233.3,785.00 332.5,784.80 432.2,785.80 531.9,785.60 531.9,787.40 134.0,787.40" fill="#8f9995" opacity="1"/>
<polyline points="134.0,785.60 233.3,785.00 332.5,784.80 432.2,785.80 531.9,785.60" fill="none" stroke="#a3aaa6" stroke-width="1"/>
<polygon points="134.0,818.30 233.3,818.80 332.5,817.10 432.2,818.40 531.9,817.40 531.9,820.60 134.0,820.60" fill="#5b8590" opacity="1"/>
<polyline points="134.0,818.30 233.3,818.80 332.5,817.10 432.2,818.40 531.9,817.40" fill="none" stroke="#6a97a2" stroke-width="1"/>
<polygon points="134.0,851.90 233.3,852.30 332.5,852.40 432.2,852.60 531.9,852.50 531.9,853.20 134.0,853.20" fill="#4a7f8c" opacity="1"/>
<polyline points="134.0,851.90 233.3,852.30 332.5,852.40 432.2,852.60 531.9,852.50" fill="none" stroke="#4f8794" stroke-width="1"/>
<polygon points="134.0,878.20 233.3,881.40 332.5,880.20 432.2,875.30 531.9,878.20 531.9,886.30 134.0,886.30" fill="#2a3d44" opacity="1"/>
<polyline points="134.0,878.20 233.3,881.40 332.5,880.20 432.2,875.30 531.9,878.20" fill="none" stroke="#34484f" stroke-width="1"/>
<path d="M83.7 886.3H581.3" stroke="#6f767d" stroke-width="1" fill="none"/>
<path d="M83.90 886.3V890.5M183.40 886.3V890.5M282.70 886.3V890.5M382.00 886.3V890.5M481.20 886.3V890.5M581.10 886.3V890.5" stroke="#6f767d" stroke-width="1" fill="none"/>
</g>
<g id="tablechrome">
<rect x="1564.8" y="683.5" width="13" height="245" fill="#2b2c2e"/>
<rect x="1567.9" y="686" width="7.4" height="191.4" rx="3.7" fill="#6c6d70"/>
<path d="M768.75 695.9L771.85 692.1L774.95 695.9ZM768.75 697.4L771.85 701.2L774.95 697.4Z" fill="#ffffff"/>
<path d="M845.50 695.9L848.60 692.1L851.70 695.9ZM845.50 697.4L848.60 701.2L851.70 697.4Z" fill="#ffffff"/>
<path d="M922.25 695.9L925.35 692.1L928.45 695.9ZM922.25 697.4L925.35 701.2L928.45 697.4Z" fill="#ffffff"/>
<path d="M999.00 695.9L1002.10 692.1L1005.20 695.9ZM999.00 697.4L1002.10 701.2L1005.20 697.4Z" fill="#ffffff"/>
<path d="M1075.75 695.9L1078.85 692.1L1081.95 695.9ZM1075.75 697.4L1078.85 701.2L1081.95 697.4Z" fill="#ffffff"/>
<path d="M1152.50 695.9L1155.60 692.1L1158.70 695.9ZM1152.50 697.4L1155.60 701.2L1158.70 697.4Z" fill="#ffffff"/>
<path d="M1229.25 695.9L1232.35 692.1L1235.45 695.9ZM1229.25 697.4L1232.35 701.2L1235.45 697.4Z" fill="#ffffff"/>
<path d="M1306.00 695.9L1309.10 692.1L1312.20 695.9ZM1306.00 697.4L1309.10 701.2L1312.20 697.4Z" fill="#ffffff"/>
<path d="M1382.75 695.9L1385.85 692.1L1388.95 695.9ZM1382.75 697.4L1385.85 701.2L1388.95 697.4Z" fill="#ffffff"/>
<path d="M1459.50 695.9L1462.60 692.1L1465.70 695.9ZM1459.50 697.4L1462.60 701.2L1465.70 697.4Z" fill="#ffffff"/>
<path d="M1536.25 695.9L1539.35 692.1L1542.45 695.9ZM1536.25 697.4L1539.35 701.2L1542.45 697.4Z" fill="#ffffff"/>
<path d="M784.65 683V710" stroke="#141d24" stroke-width="1" fill="none"/>
<path d="M861.40 683V710" stroke="#141d24" stroke-width="1" fill="none"/>
<path d="M938.15 683V710" stroke="#141d24" stroke-width="1" fill="none"/>
<path d="M1014.90 683V710" stroke="#141d24" stroke-width="1" fill="none"/>
<path d="M1091.65 683V710" stroke="#141d24" stroke-width="1" fill="none"/>
<path d="M1168.40 683V710" stroke="#141d24" stroke-width="1" fill="none"/>
<path d="M1245.15 683V710" stroke="#141d24" stroke-width="1" fill="none"/>
<path d="M1321.90 683V710" stroke="#141d24" stroke-width="1" fill="none"/>
<path d="M1398.65 683V710" stroke="#141d24" stroke-width="1" fill="none"/>
<path d="M1475.40 683V710" stroke="#141d24" stroke-width="1" fill="none"/>
<path d="M1552.15 683V710" stroke="#141d24" stroke-width="1" fill="none"/>
</g>

</svg>
<div id="txt">
<span class="t" id="t0" style="left:42.20px;top:20.00px;font-size:10.00px;color:#ffffff;transform:scaleX(0.8742);">Global Time Range</span>
<span class="t" id="t1" style="left:178.20px;top:20.00px;font-size:9.71px;color:#ffffff;transform:scaleX(0.9039);">Campus</span>
<span class="t" id="t2" style="left:313.50px;top:20.00px;font-size:9.71px;color:#ffffff;transform:scaleX(0.9083);">Floor Number</span>
<span class="t" id="t3" style="left:52.11px;top:40.00px;font-size:9.86px;color:#ffffff;transform:scaleX(0.9651);">Last 24 hours</span>
<span class="t" id="t4" style="left:188.20px;top:40.00px;font-size:9.86px;color:#ffffff;transform:scaleX(0.9566);">Atlanta</span>
<span class="t" id="t5" style="left:323.30px;top:40.00px;font-size:9.86px;color:#ffffff;transform:scaleX(0.9312);">Floor 1</span>
<span class="t" id="t6" style="left:171.40px;top:113.00px;font-size:19.71px;font-weight:bold;color:#ffffff;transform:scaleX(0.9726);">Atlanta Readiness</span>
<span class="t" id="t7" style="left:533.69px;top:96.00px;font-size:14.93px;font-weight:bold;color:#ffffff;transform:scaleX(0.9467);">Employees on Floor</span>
<span class="t" id="t8" style="left:719.01px;top:96.00px;font-size:14.93px;font-weight:bold;color:#ffffff;transform:scaleX(0.9550);">Average Employees Per Room</span>
<span class="t" id="t9" style="left:972.63px;top:96.00px;font-size:14.93px;font-weight:bold;color:#ffffff;transform:scaleX(0.9567);">Current Max Occupancy/Floor</span>
<span class="t" id="t10" style="left:1226.13px;top:96.00px;font-size:14.93px;font-weight:bold;color:#ffffff;transform:scaleX(0.9572);">Remote Employees</span>
<span class="t" id="t11" style="left:558.16px;top:125.00px;font-size:25.35px;font-weight:bold;color:#c8cd3c;transform:scaleX(1.1060);">460</span>
<span class="t" id="t12" style="left:759.37px;top:125.00px;font-size:25.35px;font-weight:bold;color:#f0433f;transform:scaleX(1.1085);">46</span>
<span class="t" id="t13" style="left:1005.14px;top:125.00px;font-size:25.35px;font-weight:bold;color:#1fa356;transform:scaleX(1.1081);">525</span>
<span class="t" id="t14" style="left:1241.09px;top:125.00px;font-size:25.35px;font-weight:bold;color:#6ab7b7;transform:scaleX(1.0864);">32</span>
<span class="t" id="t15" style="left:90.71px;top:192.00px;font-size:11.74px;font-weight:bold;color:#ffffff;transform:scaleX(0.9585);">Elevation Live View</span>
<span class="t" id="t16" style="left:497.25px;top:192.00px;font-size:11.74px;font-weight:bold;color:#ffffff;transform:scaleX(0.9585);">Floor Plan Live View</span>
<span class="t" id="t17" style="left:1232.13px;top:192.00px;font-size:11.74px;font-weight:bold;color:#ffffff;transform:scaleX(0.9478);">Room Occupancy Today</span>
<span class="t" id="t18" style="left:289.94px;top:266.00px;font-size:22.54px;font-weight:bold;color:#d9b50a;transform:scaleX(1.2074);">423</span>
<span class="t" id="t19" style="left:290.45px;top:312.00px;font-size:22.54px;font-weight:bold;color:#1c9a40;transform:scaleX(1.1587);">375</span>
<span class="t" id="t20" style="left:290.45px;top:362.00px;font-size:22.54px;font-weight:bold;color:#1c9a40;transform:scaleX(1.1587);">375</span>
<span class="t" id="t21" style="left:290.06px;top:413.00px;font-size:22.54px;font-weight:bold;color:#73af2d;transform:scaleX(1.1988);">386</span>
<span class="t" id="t22" style="left:289.62px;top:462.00px;font-size:22.54px;font-weight:bold;color:#a5aa1e;transform:scaleX(1.1908);">402</span>
<span class="t" id="t23" style="left:289.43px;top:513.00px;font-size:22.54px;font-weight:bold;color:#eb8719;transform:scaleX(1.2148);">460</span>
<span class="t" id="t24" style="left:645.69px;top:373.00px;font-size:20.07px;font-weight:bold;color:#ffd83a;transform:scaleX(1.1376);">35</span>
<span class="t" id="t25" style="left:946.97px;top:372.00px;font-size:24.30px;font-weight:bold;color:#ffd83a;transform:scaleX(1.1130);">38</span>
<span class="t" id="t26" style="left:1091.25px;top:372.00px;font-size:24.30px;font-weight:bold;color:#ff7a50;transform:scaleX(1.1041);">42</span>
<span class="t" id="t27" style="left:516.20px;top:497.00px;font-size:22.89px;font-weight:bold;color:#ff4646;transform:scaleX(1.1840);">58</span>
<span class="t" id="t28" style="left:592.70px;top:497.00px;font-size:22.89px;font-weight:bold;color:#ff4646;transform:scaleX(1.1372);">54</span>
<span class="t" id="t29" style="left:677.31px;top:506.00px;font-size:22.89px;font-weight:bold;color:#2ecc40;transform:scaleX(1.1460);">32</span>
<span class="t" id="t30" style="left:714.78px;top:506.00px;font-size:22.89px;font-weight:bold;color:#2ecc40;transform:scaleX(1.1571);">34</span>
<span class="t" id="t31" style="left:831.28px;top:497.00px;font-size:22.89px;font-weight:bold;color:#ff4646;transform:scaleX(1.0004);">51</span>
<span class="t" id="t32" style="left:802.45px;top:565.00px;font-size:23.59px;font-weight:bold;color:#ff4646;transform:scaleX(1.2292);">60</span>
<span class="t" id="t33" style="left:947.20px;top:523.00px;font-size:23.94px;font-weight:bold;color:#ff4646;transform:scaleX(1.1521);">56</span>
<span class="t" id="t34" style="left:1230.46px;top:221.00px;font-size:9.58px;color:#c3c7cb;transform:scaleX(1.0361);">500</span>
<span class="t" id="t35" style="left:1229.69px;top:284.00px;font-size:9.58px;color:#c3c7cb;transform:scaleX(1.0232);">400</span>
<span class="t" id="t36" style="left:1230.43px;top:346.00px;font-size:9.58px;color:#c3c7cb;transform:scaleX(1.0377);">300</span>
<span class="t" id="t37" style="left:1229.53px;top:408.00px;font-size:9.58px;color:#c3c7cb;transform:scaleX(1.0365);">200</span>
<span class="t" id="t38" style="left:1230.00px;top:470.00px;font-size:9.58px;color:#c3c7cb;transform:scaleX(1.0559);">100</span>
<span class="t" id="t39" style="left:1399.77px;top:551.00px;font-size:8.70px;color:#c3c7cb;transform:scaleX(1.1513);">myTime</span>
<span class="t" id="t40" style="left:1288.53px;top:567.00px;font-size:9.42px;color:#c3c7cb;transform:scaleX(1.0253);">host18</span>
<span class="t" id="t41" style="left:1359.74px;top:567.00px;font-size:9.42px;color:#c3c7cb;transform:scaleX(1.0385);">host19</span>
<span class="t" id="t42" style="left:1431.20px;top:567.00px;font-size:9.42px;color:#c3c7cb;transform:scaleX(1.1062);">host2</span>
<span class="t" id="t43" style="left:1502.17px;top:567.00px;font-size:9.42px;color:#c3c7cb;transform:scaleX(1.1173);">host248</span>
<span class="t" id="t44" style="left:1288.31px;top:580.00px;font-size:9.42px;color:#c3c7cb;transform:scaleX(1.1173);">host254</span>
<span class="t" id="t45" style="left:1359.57px;top:580.00px;font-size:9.42px;color:#c3c7cb;transform:scaleX(1.1322);">host8</span>
<span class="t" id="t46" style="left:57.11px;top:665.00px;font-size:11.59px;font-weight:bold;color:#ffffff;transform:scaleX(0.9629);">Floor Occupancy Today</span>
<span class="t" id="t47" style="left:57.27px;top:693.00px;font-size:9.58px;color:#c3c7cb;transform:scaleX(1.0553);">320</span>
<span class="t" id="t48" style="left:57.27px;top:726.00px;font-size:9.58px;color:#c3c7cb;transform:scaleX(1.0553);">320</span>
<span class="t" id="t49" style="left:57.27px;top:759.00px;font-size:9.58px;color:#c3c7cb;transform:scaleX(1.0553);">320</span>
<span class="t" id="t50" style="left:57.27px;top:792.00px;font-size:9.58px;color:#c3c7cb;transform:scaleX(1.0553);">320</span>
<span class="t" id="t51" style="left:57.27px;top:825.00px;font-size:9.58px;color:#c3c7cb;transform:scaleX(1.0553);">320</span>
<span class="t" id="t52" style="left:57.27px;top:858.00px;font-size:9.58px;color:#c3c7cb;transform:scaleX(1.0553);">320</span>
<span class="t" id="t53" style="left:120.40px;top:889.00px;font-size:9.86px;color:#c3c7cb;transform:scaleX(1.0942);">02:00</span>
<span class="t" id="t54" style="left:219.75px;top:889.00px;font-size:9.86px;color:#c3c7cb;transform:scaleX(1.1148);">02:01</span>
<span class="t" id="t55" style="left:319.30px;top:889.00px;font-size:9.86px;color:#c3c7cb;transform:scaleX(1.1127);">02:02</span>
<span class="t" id="t56" style="left:418.34px;top:889.00px;font-size:9.86px;color:#c3c7cb;transform:scaleX(1.0960);">02:03</span>
<span class="t" id="t57" style="left:518.30px;top:889.00px;font-size:9.86px;color:#c3c7cb;transform:scaleX(1.1113);">02:04</span>
<span class="t" id="t58" style="left:707.20px;top:655.00px;font-size:12.68px;font-weight:bold;color:#ffffff;transform:scaleX(0.8944);">Campus Data</span>
<span class="t" id="t59" style="left:718.25px;top:690.00px;font-size:12.61px;color:#ffffff;transform:scaleX(0.9107);">Atlant...</span>
<span class="t" id="t60" style="left:795.00px;top:690.00px;font-size:12.61px;color:#ffffff;transform:scaleX(0.9107);">Atlant...</span>
<span class="t" id="t61" style="left:871.84px;top:690.00px;font-size:12.61px;color:#ffffff;transform:scaleX(0.9107);">Atlant...</span>
<span class="t" id="t62" style="left:947.79px;top:690.00px;font-size:12.61px;color:#ffffff;transform:scaleX(0.9107);">Atlant...</span>
<span class="t" id="t63" style="left:1025.25px;top:690.00px;font-size:12.61px;color:#ffffff;transform:scaleX(0.9107);">Atlant...</span>
<span class="t" id="t64" style="left:1102.00px;top:690.00px;font-size:12.61px;color:#ffffff;transform:scaleX(0.9107);">Atlant...</span>
<span class="t" id="t65" style="left:1177.70px;top:690.00px;font-size:12.61px;color:#ffffff;transform:scaleX(0.9117);">LosAn...</span>
<span class="t" id="t66" style="left:1254.27px;top:690.00px;font-size:12.61px;color:#ffffff;transform:scaleX(0.9117);">LosAn...</span>
<span class="t" id="t67" style="left:1331.02px;top:690.00px;font-size:12.61px;color:#ffffff;transform:scaleX(0.9117);">LosAn...</span>
<span class="t" id="t68" style="left:1408.20px;top:690.00px;font-size:12.61px;color:#ffffff;transform:scaleX(0.9117);">LosAn...</span>
<span class="t" id="t69" style="left:1484.70px;top:690.00px;font-size:12.61px;color:#ffffff;transform:scaleX(0.9117);">LosAn...</span>
<span class="t" id="t70" style="left:1562.13px;top:690.00px;font-size:12.61px;color:#ffffff;transform:scaleX(0.2858);clip-path:inset(0 0 0 0);">L</span>
<span class="t" id="t71" style="left:759.64px;top:717.00px;font-size:12.25px;color:#f0f1f2;transform:scaleX(1.1060);">60</span>
<span class="t" id="t72" style="left:836.34px;top:717.00px;font-size:12.25px;color:#f0f1f2;transform:scaleX(1.1142);">34</span>
<span class="t" id="t73" style="left:912.90px;top:717.00px;font-size:12.25px;color:#f0f1f2;transform:scaleX(1.1108);">28</span>
<span class="t" id="t74" style="left:990.12px;top:717.00px;font-size:12.25px;color:#f0f1f2;transform:scaleX(1.1159);">36</span>
<span class="t" id="t75" style="left:1066.43px;top:717.00px;font-size:12.25px;color:#f0f1f2;transform:scaleX(1.1159);">36</span>
<span class="t" id="t76" style="left:1143.36px;top:717.00px;font-size:12.25px;color:#f0f1f2;transform:scaleX(1.1123);">55</span>
<span class="t" id="t77" style="left:1219.87px;top:717.00px;font-size:12.25px;color:#f0f1f2;transform:scaleX(1.1060);">60</span>
<span class="t" id="t78" style="left:1297.21px;top:717.00px;font-size:12.25px;color:#f0f1f2;transform:scaleX(1.1060);">60</span>
<span class="t" id="t79" style="left:1373.74px;top:717.00px;font-size:12.25px;color:#f0f1f2;transform:scaleX(1.1145);">29</span>
<span class="t" id="t80" style="left:1450.34px;top:717.00px;font-size:12.25px;color:#f0f1f2;transform:scaleX(1.1196);">52</span>
<span class="t" id="t81" style="left:1526.86px;top:717.00px;font-size:12.25px;color:#f0f1f2;transform:scaleX(1.1162);">59</span>
<span class="t" id="t82" style="left:759.51px;top:744.00px;font-size:12.25px;color:#f0f1f2;transform:scaleX(1.1130);">56</span>
<span class="t" id="t83" style="left:837.59px;top:744.00px;font-size:12.25px;color:#f0f1f2;transform:scaleX(0.9772);">51</span>
<span class="t" id="t84" style="left:913.46px;top:744.00px;font-size:12.25px;color:#f0f1f2;transform:scaleX(1.0910);">42</span>
<span class="t" id="t85" style="left:990.12px;top:744.00px;font-size:12.25px;color:#f0f1f2;transform:scaleX(1.1152);">35</span>
<span class="t" id="t86" style="left:1066.43px;top:744.00px;font-size:12.25px;color:#f0f1f2;transform:scaleX(1.1152);">35</span>
<span class="t" id="t87" style="left:1143.26px;top:744.00px;font-size:12.25px;color:#f0f1f2;transform:scaleX(1.1078);">50</span>
<span class="t" id="t88" style="left:1220.48px;top:744.00px;font-size:12.25px;color:#f0f1f2;transform:scaleX(1.0868);">43</span>
<span class="t" id="t89" style="left:1297.13px;top:744.00px;font-size:12.25px;color:#f0f1f2;transform:scaleX(1.1108);">30</span>
<span class="t" id="t90" style="left:1373.68px;top:744.00px;font-size:12.25px;color:#f0f1f2;transform:scaleX(1.1200);">27</span>
<span class="t" id="t91" style="left:1450.43px;top:744.00px;font-size:12.25px;color:#f0f1f2;transform:scaleX(1.1200);">27</span>
<span class="t" id="t92" style="left:1526.86px;top:744.00px;font-size:12.25px;color:#f0f1f2;transform:scaleX(1.1130);">56</span>
<span class="t" id="t93" style="left:760.25px;top:771.00px;font-size:12.25px;color:#f0f1f2;transform:scaleX(1.0910);">42</span>
<span class="t" id="t94" style="left:836.34px;top:771.00px;font-size:12.25px;color:#f0f1f2;transform:scaleX(1.1196);">32</span>
<span class="t" id="t95" style="left:912.84px;top:771.00px;font-size:12.25px;color:#f0f1f2;transform:scaleX(1.1152);">53</span>
<span class="t" id="t96" style="left:990.13px;top:771.00px;font-size:12.25px;color:#f0f1f2;transform:scaleX(1.1108);">30</span>
<span class="t" id="t97" style="left:1066.47px;top:771.00px;font-size:12.25px;color:#f0f1f2;transform:scaleX(1.1108);">30</span>
<span class="t" id="t98" style="left:1143.34px;top:771.00px;font-size:12.25px;color:#f0f1f2;transform:scaleX(1.1152);">35</span>
<span class="t" id="t99" style="left:1219.90px;top:771.00px;font-size:12.25px;color:#f0f1f2;transform:scaleX(1.1108);">25</span>
<span class="t" id="t100" style="left:1297.99px;top:771.00px;font-size:12.25px;color:#f0f1f2;transform:scaleX(0.9769);">31</span>
<span class="t" id="t101" style="left:1375.10px;top:771.00px;font-size:12.25px;color:#f0f1f2;transform:scaleX(0.9769);">31</span>
<span class="t" id="t102" style="left:1450.34px;top:771.00px;font-size:12.25px;color:#f0f1f2;transform:scaleX(1.1152);">33</span>
<span class="t" id="t103" style="left:1526.86px;top:771.00px;font-size:12.25px;color:#f0f1f2;transform:scaleX(1.1078);">50</span>
<span class="t" id="t104" style="left:759.43px;top:798.00px;font-size:12.25px;color:#f0f1f2;transform:scaleX(1.1152);">38</span>
<span class="t" id="t105" style="left:836.74px;top:798.00px;font-size:12.25px;color:#f0f1f2;transform:scaleX(1.0895);">49</span>
<span class="t" id="t106" style="left:912.90px;top:798.00px;font-size:12.25px;color:#f0f1f2;transform:scaleX(1.1108);">28</span>
<span class="t" id="t107" style="left:989.68px;top:798.00px;font-size:12.25px;color:#f0f1f2;transform:scaleX(1.0868);">43</span>
<span class="t" id="t108" style="left:1067.25px;top:798.00px;font-size:12.25px;color:#f0f1f2;transform:scaleX(1.0868);">43</span>
<span class="t" id="t109" style="left:1143.34px;top:798.00px;font-size:12.25px;color:#f0f1f2;transform:scaleX(1.1152);">35</span>
<span class="t" id="t110" style="left:1222.35px;top:798.00px;font-size:12.25px;color:#f0f1f2;transform:scaleX(0.9769);">31</span>
<span class="t" id="t111" style="left:1297.12px;top:798.00px;font-size:12.25px;color:#f0f1f2;transform:scaleX(1.1190);">39</span>
<span class="t" id="t112" style="left:1374.25px;top:798.00px;font-size:12.25px;color:#f0f1f2;transform:scaleX(1.0866);">46</span>
<span class="t" id="t113" style="left:1450.26px;top:798.00px;font-size:12.25px;color:#f0f1f2;transform:scaleX(1.1130);">56</span>
<span class="t" id="t114" style="left:1527.49px;top:798.00px;font-size:12.25px;color:#f0f1f2;transform:scaleX(1.0895);">49</span>
<span class="t" id="t115" style="left:761.09px;top:825.00px;font-size:12.25px;color:#f0f1f2;transform:scaleX(0.9772);">51</span>
<span class="t" id="t116" style="left:836.74px;top:825.00px;font-size:12.25px;color:#f0f1f2;transform:scaleX(1.0895);">49</span>
<span class="t" id="t117" style="left:912.84px;top:825.00px;font-size:12.25px;color:#f0f1f2;transform:scaleX(1.1152);">35</span>
<span class="t" id="t118" style="left:990.12px;top:825.00px;font-size:12.25px;color:#f0f1f2;transform:scaleX(1.1190);">39</span>
<span class="t" id="t119" style="left:1066.43px;top:825.00px;font-size:12.25px;color:#f0f1f2;transform:scaleX(1.1190);">39</span>
<span class="t" id="t120" style="left:1143.74px;top:825.00px;font-size:12.25px;color:#f0f1f2;transform:scaleX(1.0850);">44</span>
<span class="t" id="t121" style="left:1219.84px;top:825.00px;font-size:12.25px;color:#f0f1f2;transform:scaleX(1.1190);">39</span>
<span class="t" id="t122" style="left:1297.12px;top:825.00px;font-size:12.25px;color:#f0f1f2;transform:scaleX(1.1152);">33</span>
<span class="t" id="t123" style="left:1373.43px;top:825.00px;font-size:12.25px;color:#f0f1f2;transform:scaleX(1.1152);">33</span>
<span class="t" id="t124" style="left:1450.36px;top:825.00px;font-size:12.25px;color:#f0f1f2;transform:scaleX(1.1123);">55</span>
<span class="t" id="t125" style="left:1526.84px;top:825.00px;font-size:12.25px;color:#f0f1f2;transform:scaleX(1.1142);">34</span>
<span class="t" id="t126" style="left:759.43px;top:852.00px;font-size:12.25px;color:#f0f1f2;transform:scaleX(1.1152);">35</span>
<span class="t" id="t127" style="left:836.35px;top:852.00px;font-size:12.25px;color:#f0f1f2;transform:scaleX(1.1136);">54</span>
<span class="t" id="t128" style="left:912.84px;top:852.00px;font-size:12.25px;color:#f0f1f2;transform:scaleX(1.1142);">34</span>
<span class="t" id="t129" style="left:990.99px;top:852.00px;font-size:12.25px;color:#f0f1f2;transform:scaleX(0.9769);">31</span>
<span class="t" id="t130" style="left:1068.10px;top:852.00px;font-size:12.25px;color:#f0f1f2;transform:scaleX(0.9769);">31</span>
<span class="t" id="t131" style="left:1143.34px;top:852.00px;font-size:12.25px;color:#f0f1f2;transform:scaleX(1.1196);">32</span>
<span class="t" id="t132" style="left:1219.90px;top:852.00px;font-size:12.25px;color:#f0f1f2;transform:scaleX(1.1145);">29</span>
<span class="t" id="t133" style="left:1297.12px;top:852.00px;font-size:12.25px;color:#f0f1f2;transform:scaleX(1.1152);">35</span>
<span class="t" id="t134" style="left:1373.74px;top:852.00px;font-size:12.25px;color:#f0f1f2;transform:scaleX(1.1115);">26</span>
<span class="t" id="t135" style="left:1450.74px;top:852.00px;font-size:12.25px;color:#f0f1f2;transform:scaleX(1.0948);">47</span>
<span class="t" id="t136" style="left:1526.84px;top:852.00px;font-size:12.25px;color:#f0f1f2;transform:scaleX(1.1196);">32</span>
<span class="t" id="t137" style="left:759.43px;top:879.00px;font-size:12.25px;color:#f0f1f2;transform:scaleX(1.1142);">34</span>
<span class="t" id="t138" style="left:836.71px;top:879.00px;font-size:12.25px;color:#f0f1f2;transform:scaleX(1.0910);">42</span>
<span class="t" id="t139" style="left:913.49px;top:879.00px;font-size:12.25px;color:#f0f1f2;transform:scaleX(1.0850);">44</span>
<span class="t" id="t140" style="left:990.24px;top:879.00px;font-size:12.25px;color:#f0f1f2;transform:scaleX(1.1200);">27</span>
<span class="t" id="t141" style="left:1066.68px;top:879.00px;font-size:12.25px;color:#f0f1f2;transform:scaleX(1.1200);">27</span>
<span class="t" id="t142" style="left:1144.60px;top:879.00px;font-size:12.25px;color:#f0f1f2;transform:scaleX(0.9769);">31</span>
<span class="t" id="t143" style="left:1219.87px;top:879.00px;font-size:12.25px;color:#f0f1f2;transform:scaleX(1.1060);">60</span>
<span class="t" id="t144" style="left:1296.68px;top:879.00px;font-size:12.25px;color:#f0f1f2;transform:scaleX(1.0910);">42</span>
<span class="t" id="t145" style="left:1373.64px;top:879.00px;font-size:12.25px;color:#f0f1f2;transform:scaleX(1.1060);">60</span>
<span class="t" id="t146" style="left:1450.34px;top:879.00px;font-size:12.25px;color:#f0f1f2;transform:scaleX(1.1196);">52</span>
<span class="t" id="t147" style="left:1526.86px;top:879.00px;font-size:12.25px;color:#f0f1f2;transform:scaleX(1.1162);">59</span>
<span class="t" id="t148" style="left:759.43px;top:906.00px;font-size:12.25px;color:#f0f1f2;transform:scaleX(1.1196);">32</span>
<span class="t" id="t149" style="left:836.34px;top:906.00px;font-size:12.25px;color:#f0f1f2;transform:scaleX(1.1152);">35</span>
<span class="t" id="t150" style="left:912.84px;top:906.00px;font-size:12.25px;color:#f0f1f2;transform:scaleX(1.1152);">33</span>
<span class="t" id="t151" style="left:990.26px;top:906.00px;font-size:12.25px;color:#f0f1f2;transform:scaleX(1.1108);">28</span>
<span class="t" id="t152" style="left:1066.74px;top:906.00px;font-size:12.25px;color:#f0f1f2;transform:scaleX(1.1108);">28</span>
<span class="t" id="t153" style="left:1143.71px;top:906.00px;font-size:12.25px;color:#f0f1f2;transform:scaleX(1.0910);">42</span>
<span class="t" id="t154" style="left:1219.87px;top:906.00px;font-size:12.25px;color:#f0f1f2;transform:scaleX(1.1060);">60</span>
<span class="t" id="t155" style="left:1297.14px;top:906.00px;font-size:12.25px;color:#f0f1f2;transform:scaleX(1.1152);">53</span>
<span class="t" id="t156" style="left:1374.25px;top:906.00px;font-size:12.25px;color:#f0f1f2;transform:scaleX(1.0868);">48</span>
<span class="t" id="t157" style="left:1450.34px;top:906.00px;font-size:12.25px;color:#f0f1f2;transform:scaleX(1.1152);">58</span>
<span class="t" id="t158" style="left:1526.84px;top:906.00px;font-size:12.25px;color:#f0f1f2;transform:scaleX(1.1142);">34</span>
</div>
</body></html>
